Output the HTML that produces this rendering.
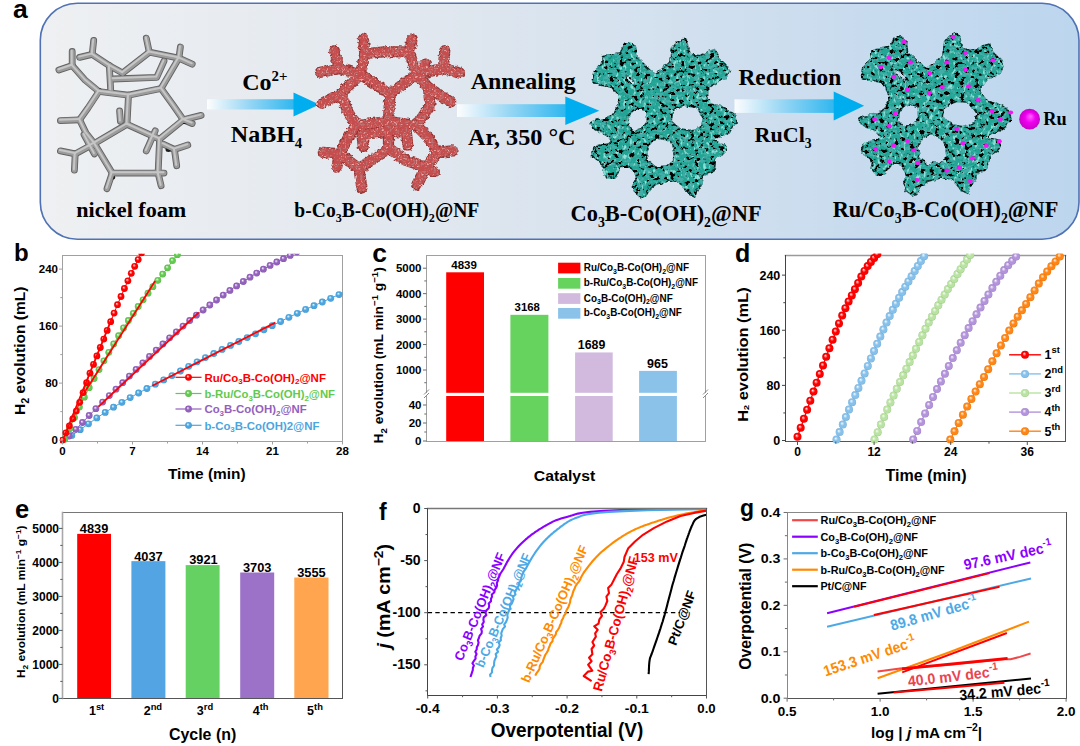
<!DOCTYPE html>
<html><head><meta charset="utf-8"><title>Figure</title>
<style>html,body{margin:0;padding:0;background:#fff;} svg{display:block;}</style></head>
<body><svg width="1080" height="746" viewBox="0 0 1080 746">
<rect width="1080" height="746" fill="#fff"/>
<defs>
<linearGradient id="abg" x1="0" y1="0" x2="1" y2="0">
<stop offset="0" stop-color="#eef0f2"/><stop offset="0.35" stop-color="#e2e8ef"/><stop offset="0.65" stop-color="#d0dfee"/><stop offset="1" stop-color="#bcd6ee"/></linearGradient>
<linearGradient id="shaft" x1="0" y1="0" x2="1" y2="0">
<stop offset="0" stop-color="#ffffff" stop-opacity="0.9"/><stop offset="0.12" stop-color="#e4f3fb"/><stop offset="0.5" stop-color="#93d5f4"/><stop offset="1" stop-color="#30b7ef"/></linearGradient>
<radialGradient id="ruball" cx="0.5" cy="0.5" r="0.5" fx="0.55" fy="0.35"><stop offset="0" stop-color="#ff66ff"/><stop offset="0.5" stop-color="#f000f0"/><stop offset="1" stop-color="#c800c8"/></radialGradient>
<filter id="tealf" filterUnits="userSpaceOnUse" x="560" y="20" width="480" height="190">
<feTurbulence type="fractalNoise" baseFrequency="0.16" numOctaves="2" seed="4" result="t1"/>
<feDisplacementMap in="SourceGraphic" in2="t1" scale="4.5" xChannelSelector="R" yChannelSelector="G" result="shape"/>
<feTurbulence type="fractalNoise" baseFrequency="0.18 0.3" numOctaves="3" seed="13" result="t0"/>
<feColorMatrix in="t0" type="matrix" values="0 0 0 0 0.06  0 0 0 0 0.42  0 0 0 0 0.39  -7 0 0 0 3.6" result="mid"/>
<feComposite in="mid" in2="shape" operator="in" result="midIn"/>
<feTurbulence type="fractalNoise" baseFrequency="0.2 0.26" numOctaves="3" seed="9" result="t2"/>
<feColorMatrix in="t2" type="matrix" values="0 0 0 0 0.0  0 0 0 0 0.0  0 0 0 0 0.0  -10 0 0 0 4.35" result="dark"/>
<feComposite in="dark" in2="shape" operator="in" result="darkIn"/>
<feTurbulence type="fractalNoise" baseFrequency="0.3 0.2" numOctaves="2" seed="21" result="t3"/>
<feColorMatrix in="t3" type="matrix" values="0 0 0 0 0.26  0 0 0 0 0.76  0 0 0 0 0.70  6 0 0 0 -3.45" result="light"/>
<feComposite in="light" in2="shape" operator="in" result="lightIn"/>
<feMerge><feMergeNode in="shape"/><feMergeNode in="midIn"/><feMergeNode in="lightIn"/><feMergeNode in="darkIn"/></feMerge>
</filter>
<filter id="redf" filterUnits="userSpaceOnUse" x="300" y="25" width="180" height="175">
<feTurbulence type="fractalNoise" baseFrequency="0.3" numOctaves="2" seed="2" result="t1"/>
<feDisplacementMap in="SourceGraphic" in2="t1" scale="4" xChannelSelector="R" yChannelSelector="G" result="shape"/>
<feTurbulence type="fractalNoise" baseFrequency="0.38" numOctaves="2" seed="5" result="t2"/>
<feColorMatrix in="t2" type="matrix" values="0 0 0 0 0.50  0 0 0 0 0.17  0 0 0 0 0.17  -6 0 0 0 2.75" result="dark"/>
<feComposite in="dark" in2="shape" operator="in" result="darkIn"/>
<feColorMatrix in="t2" type="matrix" values="0 0 0 0 0.84  0 0 0 0 0.43  0 0 0 0 0.42  6 0 0 0 -3.75" result="light"/>
<feComposite in="light" in2="shape" operator="in" result="lightIn"/>
<feMerge><feMergeNode in="shape"/><feMergeNode in="darkIn"/><feMergeNode in="lightIn"/></feMerge>
</filter>
</defs>
<rect x="40.3" y="3.3" width="1038.7" height="235.9" rx="37" ry="37" fill="url(#abg)" stroke="#5072b4" stroke-width="1.6"/>
<rect x="207" y="99.2" width="87.0" height="10.299999999999997" fill="url(#shaft)"/>
<polygon points="293.5,92.6 319.4,104.4 293.5,116.5" fill="#00aeef"/>
<rect x="457" y="104.2" width="108.79999999999995" height="12.799999999999997" fill="url(#shaft)"/>
<polygon points="565.3,96.4 599.3,110.7 565.3,125" fill="#00aeef"/>
<rect x="734.5" y="99.3" width="99.70000000000005" height="13.600000000000009" fill="url(#shaft)"/>
<polygon points="833.7,91.5 864.2,105.8 833.7,120.5" fill="#00aeef"/>
<g fill="none" stroke-linecap="round" stroke-linejoin="round">
<polyline points="58.9,70.0 72.2,65.6" stroke="#626262" stroke-width="6.8"/>
<polyline points="72.2,65.6 72.2,51.5" stroke="#626262" stroke-width="6.8"/>
<polyline points="72.2,65.6 85.0,80.0 98.9,91.5" stroke="#626262" stroke-width="6.8"/>
<polyline points="79.6,57.4 92.2,54.4" stroke="#626262" stroke-width="6.8"/>
<polyline points="92.2,54.4 93.7,40.4" stroke="#626262" stroke-width="6.8"/>
<polyline points="92.2,54.4 109.3,65.6" stroke="#626262" stroke-width="6.8"/>
<polyline points="109.3,65.6 110.7,90.0" stroke="#626262" stroke-width="6.8"/>
<polyline points="109.3,65.6 122.6,73.0" stroke="#626262" stroke-width="6.8"/>
<polyline points="122.6,73.0 149.3,52.2" stroke="#626262" stroke-width="6.8"/>
<polyline points="149.3,52.2 146.3,38.1" stroke="#626262" stroke-width="6.8"/>
<polyline points="149.3,52.2 178.9,58.1" stroke="#626262" stroke-width="6.8"/>
<polyline points="178.9,58.1 180.4,47.0" stroke="#626262" stroke-width="6.8"/>
<polyline points="178.9,58.1 192.2,64.1" stroke="#626262" stroke-width="6.8"/>
<polyline points="178.9,58.1 161.1,88.5" stroke="#626262" stroke-width="6.8"/>
<polyline points="113.0,79.0 156.7,77.4 164.0,61.1" stroke="#626262" stroke-width="6.8"/>
<polyline points="98.9,91.5 128.5,95.2 161.1,88.5" stroke="#626262" stroke-width="6.8"/>
<polyline points="98.9,91.5 88.0,108.0 79.6,119.8" stroke="#626262" stroke-width="6.8"/>
<polyline points="128.5,95.2 127.0,124.3" stroke="#626262" stroke-width="6.8"/>
<polyline points="161.1,88.5 173.0,105.0 183.3,119.8" stroke="#626262" stroke-width="6.8"/>
<polyline points="79.6,119.8 60.4,120.6" stroke="#626262" stroke-width="6.8"/>
<polyline points="79.6,119.8 86.0,133.0 94.4,143.5" stroke="#626262" stroke-width="6.8"/>
<polyline points="84.0,134.6 94.4,153.9" stroke="#626262" stroke-width="6.8"/>
<polyline points="119.6,110.9 120.4,121.3" stroke="#626262" stroke-width="6.8"/>
<polyline points="127.0,124.3 94.4,143.5" stroke="#626262" stroke-width="6.8"/>
<polyline points="94.4,143.5 75.2,153.9" stroke="#626262" stroke-width="6.8"/>
<polyline points="75.2,153.9 60.4,150.9" stroke="#626262" stroke-width="6.8"/>
<polyline points="75.2,153.9 74.4,170.2" stroke="#626262" stroke-width="6.8"/>
<polyline points="127.0,124.3 159.6,139.1" stroke="#626262" stroke-width="6.8"/>
<polyline points="159.6,139.1 183.3,119.8" stroke="#626262" stroke-width="6.8"/>
<polyline points="183.3,119.8 201.1,115.4" stroke="#626262" stroke-width="6.8"/>
<polyline points="183.3,119.8 192.2,123.5" stroke="#626262" stroke-width="6.8"/>
<polyline points="159.6,139.1 158.1,173.1" stroke="#626262" stroke-width="6.8"/>
<polyline points="163.0,144.0 174.4,149.4" stroke="#626262" stroke-width="6.8"/>
<polyline points="174.4,149.4 187.8,145.0" stroke="#626262" stroke-width="6.8"/>
<polyline points="174.4,149.4 176.7,165.7" stroke="#626262" stroke-width="6.8"/>
<polyline points="155.2,130.9 146.3,150.9" stroke="#626262" stroke-width="6.8"/>
<polyline points="94.4,143.5 112.2,173.1" stroke="#626262" stroke-width="6.8"/>
<polyline points="112.2,173.1 158.1,173.1" stroke="#626262" stroke-width="6.8"/>
<polyline points="112.2,173.1 107.0,188.7" stroke="#626262" stroke-width="6.8"/>
<polyline points="158.1,173.1 161.1,185.7" stroke="#626262" stroke-width="6.8"/>
<polyline points="158.1,173.1 164.0,173.1" stroke="#626262" stroke-width="6.8"/>
<ellipse cx="98.9" cy="90.7" rx="3.5" ry="2.5" fill="#1e1e1e" stroke="none"/>
<ellipse cx="160.4" cy="88.5" rx="3.2" ry="2.6" fill="#1e1e1e" stroke="none"/>
<ellipse cx="184.8" cy="122" rx="3" ry="2" fill="#1e1e1e" stroke="none"/>
<ellipse cx="158.9" cy="174.6" rx="3" ry="2" fill="#1e1e1e" stroke="none"/>
<ellipse cx="112.2" cy="177.6" rx="3" ry="2" fill="#1e1e1e" stroke="none"/>
<ellipse cx="93" cy="146.5" rx="2.5" ry="3" fill="#1e1e1e" stroke="none"/>
<ellipse cx="168.5" cy="149.4" rx="3" ry="2.5" fill="#1e1e1e" stroke="none"/>
<ellipse cx="111" cy="78" rx="2.5" ry="2" fill="#1e1e1e" stroke="none"/>
<polyline points="58.9,70.0 72.2,65.6" stroke="#9c9c9c" stroke-width="5.0"/>
<polyline points="72.2,65.6 72.2,51.5" stroke="#9c9c9c" stroke-width="5.0"/>
<polyline points="72.2,65.6 85.0,80.0 98.9,91.5" stroke="#9c9c9c" stroke-width="5.0"/>
<polyline points="79.6,57.4 92.2,54.4" stroke="#9c9c9c" stroke-width="5.0"/>
<polyline points="92.2,54.4 93.7,40.4" stroke="#9c9c9c" stroke-width="5.0"/>
<polyline points="92.2,54.4 109.3,65.6" stroke="#9c9c9c" stroke-width="5.0"/>
<polyline points="109.3,65.6 110.7,90.0" stroke="#9c9c9c" stroke-width="5.0"/>
<polyline points="109.3,65.6 122.6,73.0" stroke="#9c9c9c" stroke-width="5.0"/>
<polyline points="122.6,73.0 149.3,52.2" stroke="#9c9c9c" stroke-width="5.0"/>
<polyline points="149.3,52.2 146.3,38.1" stroke="#9c9c9c" stroke-width="5.0"/>
<polyline points="149.3,52.2 178.9,58.1" stroke="#9c9c9c" stroke-width="5.0"/>
<polyline points="178.9,58.1 180.4,47.0" stroke="#9c9c9c" stroke-width="5.0"/>
<polyline points="178.9,58.1 192.2,64.1" stroke="#9c9c9c" stroke-width="5.0"/>
<polyline points="178.9,58.1 161.1,88.5" stroke="#9c9c9c" stroke-width="5.0"/>
<polyline points="113.0,79.0 156.7,77.4 164.0,61.1" stroke="#9c9c9c" stroke-width="5.0"/>
<polyline points="98.9,91.5 128.5,95.2 161.1,88.5" stroke="#9c9c9c" stroke-width="5.0"/>
<polyline points="98.9,91.5 88.0,108.0 79.6,119.8" stroke="#9c9c9c" stroke-width="5.0"/>
<polyline points="128.5,95.2 127.0,124.3" stroke="#9c9c9c" stroke-width="5.0"/>
<polyline points="161.1,88.5 173.0,105.0 183.3,119.8" stroke="#9c9c9c" stroke-width="5.0"/>
<polyline points="79.6,119.8 60.4,120.6" stroke="#9c9c9c" stroke-width="5.0"/>
<polyline points="79.6,119.8 86.0,133.0 94.4,143.5" stroke="#9c9c9c" stroke-width="5.0"/>
<polyline points="84.0,134.6 94.4,153.9" stroke="#9c9c9c" stroke-width="5.0"/>
<polyline points="119.6,110.9 120.4,121.3" stroke="#9c9c9c" stroke-width="5.0"/>
<polyline points="127.0,124.3 94.4,143.5" stroke="#9c9c9c" stroke-width="5.0"/>
<polyline points="94.4,143.5 75.2,153.9" stroke="#9c9c9c" stroke-width="5.0"/>
<polyline points="75.2,153.9 60.4,150.9" stroke="#9c9c9c" stroke-width="5.0"/>
<polyline points="75.2,153.9 74.4,170.2" stroke="#9c9c9c" stroke-width="5.0"/>
<polyline points="127.0,124.3 159.6,139.1" stroke="#9c9c9c" stroke-width="5.0"/>
<polyline points="159.6,139.1 183.3,119.8" stroke="#9c9c9c" stroke-width="5.0"/>
<polyline points="183.3,119.8 201.1,115.4" stroke="#9c9c9c" stroke-width="5.0"/>
<polyline points="183.3,119.8 192.2,123.5" stroke="#9c9c9c" stroke-width="5.0"/>
<polyline points="159.6,139.1 158.1,173.1" stroke="#9c9c9c" stroke-width="5.0"/>
<polyline points="163.0,144.0 174.4,149.4" stroke="#9c9c9c" stroke-width="5.0"/>
<polyline points="174.4,149.4 187.8,145.0" stroke="#9c9c9c" stroke-width="5.0"/>
<polyline points="174.4,149.4 176.7,165.7" stroke="#9c9c9c" stroke-width="5.0"/>
<polyline points="155.2,130.9 146.3,150.9" stroke="#9c9c9c" stroke-width="5.0"/>
<polyline points="94.4,143.5 112.2,173.1" stroke="#9c9c9c" stroke-width="5.0"/>
<polyline points="112.2,173.1 158.1,173.1" stroke="#9c9c9c" stroke-width="5.0"/>
<polyline points="112.2,173.1 107.0,188.7" stroke="#9c9c9c" stroke-width="5.0"/>
<polyline points="158.1,173.1 161.1,185.7" stroke="#9c9c9c" stroke-width="5.0"/>
<polyline points="158.1,173.1 164.0,173.1" stroke="#9c9c9c" stroke-width="5.0"/>
<polyline points="58.9,70.0 72.2,65.6" stroke="#c6c6c6" stroke-width="2.0" transform="translate(-0.5,-0.8)"/>
<polyline points="72.2,65.6 72.2,51.5" stroke="#c6c6c6" stroke-width="2.0" transform="translate(-0.5,-0.8)"/>
<polyline points="72.2,65.6 85.0,80.0 98.9,91.5" stroke="#c6c6c6" stroke-width="2.0" transform="translate(-0.5,-0.8)"/>
<polyline points="79.6,57.4 92.2,54.4" stroke="#c6c6c6" stroke-width="2.0" transform="translate(-0.5,-0.8)"/>
<polyline points="92.2,54.4 93.7,40.4" stroke="#c6c6c6" stroke-width="2.0" transform="translate(-0.5,-0.8)"/>
<polyline points="92.2,54.4 109.3,65.6" stroke="#c6c6c6" stroke-width="2.0" transform="translate(-0.5,-0.8)"/>
<polyline points="109.3,65.6 110.7,90.0" stroke="#c6c6c6" stroke-width="2.0" transform="translate(-0.5,-0.8)"/>
<polyline points="109.3,65.6 122.6,73.0" stroke="#c6c6c6" stroke-width="2.0" transform="translate(-0.5,-0.8)"/>
<polyline points="122.6,73.0 149.3,52.2" stroke="#c6c6c6" stroke-width="2.0" transform="translate(-0.5,-0.8)"/>
<polyline points="149.3,52.2 146.3,38.1" stroke="#c6c6c6" stroke-width="2.0" transform="translate(-0.5,-0.8)"/>
<polyline points="149.3,52.2 178.9,58.1" stroke="#c6c6c6" stroke-width="2.0" transform="translate(-0.5,-0.8)"/>
<polyline points="178.9,58.1 180.4,47.0" stroke="#c6c6c6" stroke-width="2.0" transform="translate(-0.5,-0.8)"/>
<polyline points="178.9,58.1 192.2,64.1" stroke="#c6c6c6" stroke-width="2.0" transform="translate(-0.5,-0.8)"/>
<polyline points="178.9,58.1 161.1,88.5" stroke="#c6c6c6" stroke-width="2.0" transform="translate(-0.5,-0.8)"/>
<polyline points="113.0,79.0 156.7,77.4 164.0,61.1" stroke="#c6c6c6" stroke-width="2.0" transform="translate(-0.5,-0.8)"/>
<polyline points="98.9,91.5 128.5,95.2 161.1,88.5" stroke="#c6c6c6" stroke-width="2.0" transform="translate(-0.5,-0.8)"/>
<polyline points="98.9,91.5 88.0,108.0 79.6,119.8" stroke="#c6c6c6" stroke-width="2.0" transform="translate(-0.5,-0.8)"/>
<polyline points="128.5,95.2 127.0,124.3" stroke="#c6c6c6" stroke-width="2.0" transform="translate(-0.5,-0.8)"/>
<polyline points="161.1,88.5 173.0,105.0 183.3,119.8" stroke="#c6c6c6" stroke-width="2.0" transform="translate(-0.5,-0.8)"/>
<polyline points="79.6,119.8 60.4,120.6" stroke="#c6c6c6" stroke-width="2.0" transform="translate(-0.5,-0.8)"/>
<polyline points="79.6,119.8 86.0,133.0 94.4,143.5" stroke="#c6c6c6" stroke-width="2.0" transform="translate(-0.5,-0.8)"/>
<polyline points="84.0,134.6 94.4,153.9" stroke="#c6c6c6" stroke-width="2.0" transform="translate(-0.5,-0.8)"/>
<polyline points="119.6,110.9 120.4,121.3" stroke="#c6c6c6" stroke-width="2.0" transform="translate(-0.5,-0.8)"/>
<polyline points="127.0,124.3 94.4,143.5" stroke="#c6c6c6" stroke-width="2.0" transform="translate(-0.5,-0.8)"/>
<polyline points="94.4,143.5 75.2,153.9" stroke="#c6c6c6" stroke-width="2.0" transform="translate(-0.5,-0.8)"/>
<polyline points="75.2,153.9 60.4,150.9" stroke="#c6c6c6" stroke-width="2.0" transform="translate(-0.5,-0.8)"/>
<polyline points="75.2,153.9 74.4,170.2" stroke="#c6c6c6" stroke-width="2.0" transform="translate(-0.5,-0.8)"/>
<polyline points="127.0,124.3 159.6,139.1" stroke="#c6c6c6" stroke-width="2.0" transform="translate(-0.5,-0.8)"/>
<polyline points="159.6,139.1 183.3,119.8" stroke="#c6c6c6" stroke-width="2.0" transform="translate(-0.5,-0.8)"/>
<polyline points="183.3,119.8 201.1,115.4" stroke="#c6c6c6" stroke-width="2.0" transform="translate(-0.5,-0.8)"/>
<polyline points="183.3,119.8 192.2,123.5" stroke="#c6c6c6" stroke-width="2.0" transform="translate(-0.5,-0.8)"/>
<polyline points="159.6,139.1 158.1,173.1" stroke="#c6c6c6" stroke-width="2.0" transform="translate(-0.5,-0.8)"/>
<polyline points="163.0,144.0 174.4,149.4" stroke="#c6c6c6" stroke-width="2.0" transform="translate(-0.5,-0.8)"/>
<polyline points="174.4,149.4 187.8,145.0" stroke="#c6c6c6" stroke-width="2.0" transform="translate(-0.5,-0.8)"/>
<polyline points="174.4,149.4 176.7,165.7" stroke="#c6c6c6" stroke-width="2.0" transform="translate(-0.5,-0.8)"/>
<polyline points="155.2,130.9 146.3,150.9" stroke="#c6c6c6" stroke-width="2.0" transform="translate(-0.5,-0.8)"/>
<polyline points="94.4,143.5 112.2,173.1" stroke="#c6c6c6" stroke-width="2.0" transform="translate(-0.5,-0.8)"/>
<polyline points="112.2,173.1 158.1,173.1" stroke="#c6c6c6" stroke-width="2.0" transform="translate(-0.5,-0.8)"/>
<polyline points="112.2,173.1 107.0,188.7" stroke="#c6c6c6" stroke-width="2.0" transform="translate(-0.5,-0.8)"/>
<polyline points="158.1,173.1 161.1,185.7" stroke="#c6c6c6" stroke-width="2.0" transform="translate(-0.5,-0.8)"/>
<polyline points="158.1,173.1 164.0,173.1" stroke="#c6c6c6" stroke-width="2.0" transform="translate(-0.5,-0.8)"/>
</g>
<g fill="none" stroke-linecap="round" stroke-linejoin="round" filter="url(#redf)">
<polyline points="364.8,53.7 387.0,51.5 409.3,52.2 416.7,74.4 390.0,93.7 360.4,74.4 364.8,53.7" stroke="#963535" stroke-width="11.2"/>
<polyline points="364.8,53.7 363.3,38.9" stroke="#963535" stroke-width="11.2"/>
<polyline points="409.3,52.2 412.2,38.9" stroke="#963535" stroke-width="11.2"/>
<polyline points="339.6,68.5 334.4,50.7" stroke="#963535" stroke-width="11.2"/>
<polyline points="339.6,68.5 320.4,72.2" stroke="#963535" stroke-width="11.2"/>
<polyline points="339.6,68.5 360.4,74.4" stroke="#963535" stroke-width="11.2"/>
<polyline points="360.4,74.4 341.0,93.7" stroke="#963535" stroke-width="11.2"/>
<polyline points="341.0,93.7 321.9,103.3" stroke="#963535" stroke-width="11.2"/>
<polyline points="341.0,93.7 348.0,112.0 355.9,125.7" stroke="#963535" stroke-width="11.2"/>
<polyline points="443.3,68.5 444.8,50.7" stroke="#963535" stroke-width="11.2"/>
<polyline points="443.3,68.5 459.6,73.0" stroke="#963535" stroke-width="11.2"/>
<polyline points="443.3,68.5 416.7,74.4" stroke="#963535" stroke-width="11.2"/>
<polyline points="416.7,74.4 425.6,64.1" stroke="#963535" stroke-width="11.2"/>
<polyline points="416.7,74.4 428.5,87.8" stroke="#963535" stroke-width="11.2"/>
<polyline points="428.5,87.8 450.7,101.9" stroke="#963535" stroke-width="11.2"/>
<polyline points="428.5,87.8 430.0,106.0 416.7,125.7" stroke="#963535" stroke-width="11.2"/>
<polyline points="390.0,93.7 389.0,110.0 388.5,121.3" stroke="#963535" stroke-width="11.2"/>
<polyline points="355.9,125.7 388.5,121.3 416.7,125.7" stroke="#963535" stroke-width="11.2"/>
<polyline points="361.9,134.6 388.5,130.9 406.3,132.4" stroke="#963535" stroke-width="11.2"/>
<polyline points="361.9,134.6 363.3,146.5" stroke="#963535" stroke-width="11.2"/>
<polyline points="406.3,132.4 407.8,145.0" stroke="#963535" stroke-width="11.2"/>
<polyline points="388.5,121.3 388.5,148.0" stroke="#963535" stroke-width="11.2"/>
<polyline points="355.9,125.7 348.0,138.0 339.6,153.9" stroke="#963535" stroke-width="11.2"/>
<polyline points="339.6,153.9 323.3,152.4" stroke="#963535" stroke-width="11.2"/>
<polyline points="339.6,153.9 336.7,167.2" stroke="#963535" stroke-width="11.2"/>
<polyline points="339.6,153.9 358.9,168.7" stroke="#963535" stroke-width="11.2"/>
<polyline points="358.9,168.7 361.9,188.0" stroke="#963535" stroke-width="11.2"/>
<polyline points="358.9,168.7 381.1,153.9 388.5,148.0" stroke="#963535" stroke-width="11.2"/>
<polyline points="388.5,148.0 405.0,160.0 425.6,167.2" stroke="#963535" stroke-width="11.2"/>
<polyline points="425.6,167.2 416.7,185.0" stroke="#963535" stroke-width="11.2"/>
<polyline points="425.6,167.2 434.4,171.7" stroke="#963535" stroke-width="11.2"/>
<polyline points="425.6,167.2 437.4,152.4" stroke="#963535" stroke-width="11.2"/>
<polyline points="437.4,152.4 452.2,150.9" stroke="#963535" stroke-width="11.2"/>
<polyline points="437.4,152.4 428.5,137.6 416.7,125.7" stroke="#963535" stroke-width="11.2"/>
<polyline points="364.8,53.7 387.0,51.5 409.3,52.2 416.7,74.4 390.0,93.7 360.4,74.4 364.8,53.7" stroke="#c54e4e" stroke-width="8.6"/>
<polyline points="364.8,53.7 363.3,38.9" stroke="#c54e4e" stroke-width="8.6"/>
<polyline points="409.3,52.2 412.2,38.9" stroke="#c54e4e" stroke-width="8.6"/>
<polyline points="339.6,68.5 334.4,50.7" stroke="#c54e4e" stroke-width="8.6"/>
<polyline points="339.6,68.5 320.4,72.2" stroke="#c54e4e" stroke-width="8.6"/>
<polyline points="339.6,68.5 360.4,74.4" stroke="#c54e4e" stroke-width="8.6"/>
<polyline points="360.4,74.4 341.0,93.7" stroke="#c54e4e" stroke-width="8.6"/>
<polyline points="341.0,93.7 321.9,103.3" stroke="#c54e4e" stroke-width="8.6"/>
<polyline points="341.0,93.7 348.0,112.0 355.9,125.7" stroke="#c54e4e" stroke-width="8.6"/>
<polyline points="443.3,68.5 444.8,50.7" stroke="#c54e4e" stroke-width="8.6"/>
<polyline points="443.3,68.5 459.6,73.0" stroke="#c54e4e" stroke-width="8.6"/>
<polyline points="443.3,68.5 416.7,74.4" stroke="#c54e4e" stroke-width="8.6"/>
<polyline points="416.7,74.4 425.6,64.1" stroke="#c54e4e" stroke-width="8.6"/>
<polyline points="416.7,74.4 428.5,87.8" stroke="#c54e4e" stroke-width="8.6"/>
<polyline points="428.5,87.8 450.7,101.9" stroke="#c54e4e" stroke-width="8.6"/>
<polyline points="428.5,87.8 430.0,106.0 416.7,125.7" stroke="#c54e4e" stroke-width="8.6"/>
<polyline points="390.0,93.7 389.0,110.0 388.5,121.3" stroke="#c54e4e" stroke-width="8.6"/>
<polyline points="355.9,125.7 388.5,121.3 416.7,125.7" stroke="#c54e4e" stroke-width="8.6"/>
<polyline points="361.9,134.6 388.5,130.9 406.3,132.4" stroke="#c54e4e" stroke-width="8.6"/>
<polyline points="361.9,134.6 363.3,146.5" stroke="#c54e4e" stroke-width="8.6"/>
<polyline points="406.3,132.4 407.8,145.0" stroke="#c54e4e" stroke-width="8.6"/>
<polyline points="388.5,121.3 388.5,148.0" stroke="#c54e4e" stroke-width="8.6"/>
<polyline points="355.9,125.7 348.0,138.0 339.6,153.9" stroke="#c54e4e" stroke-width="8.6"/>
<polyline points="339.6,153.9 323.3,152.4" stroke="#c54e4e" stroke-width="8.6"/>
<polyline points="339.6,153.9 336.7,167.2" stroke="#c54e4e" stroke-width="8.6"/>
<polyline points="339.6,153.9 358.9,168.7" stroke="#c54e4e" stroke-width="8.6"/>
<polyline points="358.9,168.7 361.9,188.0" stroke="#c54e4e" stroke-width="8.6"/>
<polyline points="358.9,168.7 381.1,153.9 388.5,148.0" stroke="#c54e4e" stroke-width="8.6"/>
<polyline points="388.5,148.0 405.0,160.0 425.6,167.2" stroke="#c54e4e" stroke-width="8.6"/>
<polyline points="425.6,167.2 416.7,185.0" stroke="#c54e4e" stroke-width="8.6"/>
<polyline points="425.6,167.2 434.4,171.7" stroke="#c54e4e" stroke-width="8.6"/>
<polyline points="425.6,167.2 437.4,152.4" stroke="#c54e4e" stroke-width="8.6"/>
<polyline points="437.4,152.4 452.2,150.9" stroke="#c54e4e" stroke-width="8.6"/>
<polyline points="437.4,152.4 428.5,137.6 416.7,125.7" stroke="#c54e4e" stroke-width="8.6"/>
</g>
<g filter="url(#tealf)"><path d="M592.4,79.4 L593.9,72.0 L601.3,64.6 L602.8,55.7 L611.7,54.3 L620.6,52.8 L623.5,43.9 L629.4,42.4 L635.4,46.9 L636.9,57.2 L644.3,64.6 L650.2,70.6 L654.6,73.5 L662.0,69.1 L670.9,61.7 L672.4,48.3 L676.9,42.4 L684.3,39.4 L687.2,43.9 L688.7,54.3 L700.6,55.7 L709.4,51.3 L715.4,49.8 L718.3,57.2 L727.2,66.1 L729.4,70.6 L725.7,78.0 L718.3,82.4 L711.0,86.0 L707.5,91.0 L707.5,98.0 L712.0,104.0 L722.0,107.0 L734.6,114.4 L736.1,123.3 L730.2,130.7 L724.3,135.2 L715.4,138.1 L713.9,141.1 L724.3,144.1 L726.5,150.0 L722.8,154.4 L715.4,158.9 L714.6,166.3 L712.4,172.2 L703.5,175.2 L702.0,182.6 L697.6,190.0 L694.6,195.9 L688.7,193.0 L682.8,185.6 L676.9,181.1 L668.0,181.1 L656.1,184.1 L650.2,188.5 L645.7,195.9 L641.3,197.4 L635.4,193.0 L632.4,187.0 L636.1,179.6 L633.9,172.2 L629.4,166.3 L622.0,166.3 L617.6,172.2 L614.6,178.1 L607.2,178.1 L602.8,172.2 L604.3,166.3 L598.3,160.4 L592.4,155.9 L593.9,148.5 L596.9,145.6 L608.7,144.1 L611.7,141.1 L608.7,136.7 L601.3,132.2 L592.4,127.8 L590.9,123.3 L595.4,120.4 L604.3,118.9 L611.7,115.9 L616.0,110.0 L619.1,104.6 L617.6,94.3 L611.7,86.9 L593.9,83.9 Z M625.0,75.0 L629.4,76.5 L636.9,83.9 L633.9,86.9 L626.5,79.4 Z M636.2,108.1 L647.0,110.5 L647.6,121.4 L642.2,128.6 L632.6,131.0 L627.7,125.0 L629.0,114.1 Z M672.4,110.5 L684.4,105.7 L696.5,106.9 L703.7,117.7 L701.3,127.4 L691.7,131.0 L679.6,128.6 L671.2,121.4 Z M659.1,138.3 L670.0,140.7 L673.6,150.3 L674.8,160.0 L667.6,166.0 L655.5,167.2 L648.3,161.2 L646.4,150.3 L650.7,141.9 Z" fill="#21a595" fill-rule="evenodd" stroke="#0a2b27" stroke-width="1.6"/></g>
<g filter="url(#tealf)"><path d="M861.3,74.5 L862.9,66.9 L870.6,59.4 L872.2,50.3 L881.4,48.9 L890.7,47.4 L893.7,38.3 L899.8,36.7 L906.1,41.3 L907.6,51.8 L915.3,59.4 L921.5,65.5 L926.0,68.5 L933.7,64.0 L943.0,56.4 L944.5,42.8 L949.2,36.7 L956.9,33.7 L959.9,38.3 L961.5,48.9 L973.9,50.3 L983.0,45.8 L989.3,44.3 L992.3,51.8 L1001.5,60.9 L1003.8,65.5 L1000.0,73.1 L992.3,77.5 L984.7,81.2 L981.0,86.3 L981.0,93.5 L985.7,99.6 L996.1,102.6 L1009.2,110.2 L1010.8,119.3 L1004.7,126.8 L998.5,131.4 L989.3,134.4 L987.7,137.4 L998.5,140.5 L1000.8,146.5 L997.0,151.0 L989.3,155.6 L988.4,163.1 L986.1,169.1 L976.9,172.2 L975.3,179.7 L970.7,187.3 L967.6,193.3 L961.5,190.4 L955.4,182.8 L949.2,178.2 L940.0,178.2 L927.6,181.3 L921.5,185.8 L916.8,193.3 L912.2,194.8 L906.1,190.4 L902.9,184.2 L906.8,176.7 L904.5,169.1 L899.8,163.1 L892.1,163.1 L887.5,169.1 L884.4,175.2 L876.7,175.2 L872.2,169.1 L873.7,163.1 L867.5,157.1 L861.3,152.5 L862.9,145.0 L866.0,142.0 L878.3,140.5 L881.4,137.4 L878.3,132.9 L870.6,128.3 L861.3,123.8 L859.8,119.3 L864.5,116.3 L873.7,114.8 L881.4,111.7 L885.9,105.7 L889.1,100.2 L887.5,89.7 L881.4,82.1 L862.9,79.1 Z M895.2,70.0 L899.8,71.5 L907.6,79.1 L904.5,82.1 L896.8,74.5 Z M906.9,103.8 L918.1,106.2 L918.7,117.3 L913.1,124.7 L903.1,127.1 L898.1,121.0 L899.4,109.9 Z M944.5,106.2 L957.0,101.3 L969.6,102.5 L977.1,113.5 L974.6,123.4 L964.6,127.1 L952.0,124.7 L943.3,117.3 Z M930.7,134.6 L942.0,137.0 L945.8,146.8 L947.0,156.7 L939.5,162.8 L927.0,164.0 L919.5,157.9 L917.5,146.8 L922.0,138.2 Z" fill="#21a595" fill-rule="evenodd" stroke="#0a2b27" stroke-width="1.6"/></g>
<ellipse cx="904.2" cy="41.9" rx="2.45" ry="2.1" fill="#f812f8"/>
<ellipse cx="953.0" cy="36.8" rx="2.45" ry="2.1" fill="#f812f8"/>
<ellipse cx="888.7" cy="57.8" rx="2.45" ry="2.1" fill="#f812f8"/>
<ellipse cx="910.4" cy="62.4" rx="2.45" ry="2.1" fill="#f812f8"/>
<ellipse cx="965.5" cy="52.8" rx="2.45" ry="2.1" fill="#f812f8"/>
<ellipse cx="992.9" cy="60.3" rx="2.45" ry="2.1" fill="#f812f8"/>
<ellipse cx="880.8" cy="67.1" rx="2.45" ry="2.1" fill="#f812f8"/>
<ellipse cx="946.9" cy="62.4" rx="2.45" ry="2.1" fill="#f812f8"/>
<ellipse cx="929.8" cy="73.3" rx="2.45" ry="2.1" fill="#f812f8"/>
<ellipse cx="965.5" cy="69.9" rx="2.45" ry="2.1" fill="#f812f8"/>
<ellipse cx="893.8" cy="76.7" rx="2.45" ry="2.1" fill="#f812f8"/>
<ellipse cx="907.7" cy="89.9" rx="2.45" ry="2.1" fill="#f812f8"/>
<ellipse cx="929.3" cy="93.1" rx="2.45" ry="2.1" fill="#f812f8"/>
<ellipse cx="942.3" cy="87.0" rx="2.45" ry="2.1" fill="#f812f8"/>
<ellipse cx="968.5" cy="86.3" rx="2.45" ry="2.1" fill="#f812f8"/>
<ellipse cx="978.1" cy="100.2" rx="2.45" ry="2.1" fill="#f812f8"/>
<ellipse cx="992.0" cy="111.1" rx="2.45" ry="2.1" fill="#f812f8"/>
<ellipse cx="1010.7" cy="112.5" rx="2.45" ry="2.1" fill="#f812f8"/>
<ellipse cx="1000.4" cy="119.3" rx="2.45" ry="2.1" fill="#f812f8"/>
<ellipse cx="895.1" cy="113.9" rx="2.45" ry="2.1" fill="#f812f8"/>
<ellipse cx="874.6" cy="119.6" rx="2.45" ry="2.1" fill="#f812f8"/>
<ellipse cx="889.2" cy="126.2" rx="2.45" ry="2.1" fill="#f812f8"/>
<ellipse cx="956.7" cy="129.1" rx="2.45" ry="2.1" fill="#f812f8"/>
<ellipse cx="907.4" cy="141.0" rx="2.45" ry="2.1" fill="#f812f8"/>
<ellipse cx="962.8" cy="143.3" rx="2.45" ry="2.1" fill="#f812f8"/>
<ellipse cx="999.3" cy="141.2" rx="2.45" ry="2.1" fill="#f812f8"/>
<ellipse cx="986.3" cy="145.8" rx="2.45" ry="2.1" fill="#f812f8"/>
<ellipse cx="875.5" cy="149.0" rx="2.45" ry="2.1" fill="#f812f8"/>
<ellipse cx="894.0" cy="145.8" rx="2.45" ry="2.1" fill="#f812f8"/>
<ellipse cx="913.8" cy="150.3" rx="2.45" ry="2.1" fill="#f812f8"/>
<ellipse cx="972.4" cy="158.3" rx="2.45" ry="2.1" fill="#f812f8"/>
<ellipse cx="889.2" cy="161.7" rx="2.45" ry="2.1" fill="#f812f8"/>
<ellipse cx="917.9" cy="162.9" rx="2.45" ry="2.1" fill="#f812f8"/>
<ellipse cx="946.9" cy="170.6" rx="2.45" ry="2.1" fill="#f812f8"/>
<ellipse cx="958.9" cy="167.9" rx="2.45" ry="2.1" fill="#f812f8"/>
<ellipse cx="917.2" cy="180.0" rx="2.45" ry="2.1" fill="#f812f8"/>
<ellipse cx="970.3" cy="181.1" rx="2.45" ry="2.1" fill="#f812f8"/>
<circle cx="1029.6" cy="119.2" r="10.4" fill="url(#ruball)"/>
<text x="13.00" y="17.50" font-size="26.5" font-family="'Liberation Sans', Arial, sans-serif" font-weight="bold" fill="#000"><tspan>a</tspan></text>
<text x="242.20" y="90.20" font-size="24" font-family="'Liberation Serif', 'Times New Roman', serif" font-weight="bold" fill="#000"><tspan>Co</tspan><tspan dy="-9.12" font-size="14.88">2+</tspan></text>
<text x="230.80" y="142.40" font-size="24" font-family="'Liberation Serif', 'Times New Roman', serif" font-weight="bold" fill="#000"><tspan>NaBH</tspan><tspan dy="6.00" font-size="14.88">4</tspan></text>
<text x="76.25" y="217.00" font-size="22" font-family="'Liberation Serif', 'Times New Roman', serif" font-weight="bold" fill="#000" textLength="110.00" lengthAdjust="spacingAndGlyphs"><tspan>nickel foam</tspan></text>
<text x="294.30" y="216.70" font-size="20" font-family="'Liberation Serif', 'Times New Roman', serif" font-weight="bold" fill="#000" textLength="185.00" lengthAdjust="spacingAndGlyphs"><tspan>b-Co</tspan><tspan dy="5.60" font-size="12.40">3</tspan><tspan dy="-5.60">B-Co(OH)</tspan><tspan dy="5.60" font-size="12.40">2</tspan><tspan dy="-5.60">@NF</tspan></text>
<text x="470.80" y="88.90" font-size="24" font-family="'Liberation Serif', 'Times New Roman', serif" font-weight="bold" fill="#000" textLength="105.00" lengthAdjust="spacingAndGlyphs"><tspan>Annealing</tspan></text>
<text x="468.00" y="144.90" font-size="23" font-family="'Liberation Serif', 'Times New Roman', serif" font-weight="bold" fill="#000" textLength="107.60" lengthAdjust="spacingAndGlyphs"><tspan>Ar, 350 °C</tspan></text>
<text x="738.40" y="85.20" font-size="23.3" font-family="'Liberation Serif', 'Times New Roman', serif" font-weight="bold" fill="#000" textLength="102.80" lengthAdjust="spacingAndGlyphs"><tspan>Reduction</tspan></text>
<text x="754.60" y="142.30" font-size="22" font-family="'Liberation Serif', 'Times New Roman', serif" font-weight="bold" fill="#000" textLength="57.00" lengthAdjust="spacingAndGlyphs"><tspan>RuCl</tspan><tspan dy="6.16" font-size="13.64">3</tspan></text>
<text x="570.60" y="220.50" font-size="23" font-family="'Liberation Serif', 'Times New Roman', serif" font-weight="bold" fill="#000" textLength="191.00" lengthAdjust="spacingAndGlyphs"><tspan>Co</tspan><tspan dy="6.44" font-size="14.26">3</tspan><tspan dy="-6.44">B-Co(OH)</tspan><tspan dy="6.44" font-size="14.26">2</tspan><tspan dy="-6.44">@NF</tspan></text>
<text x="832.70" y="216.60" font-size="22.5" font-family="'Liberation Serif', 'Times New Roman', serif" font-weight="bold" fill="#000" textLength="225.70" lengthAdjust="spacingAndGlyphs"><tspan>Ru/Co</tspan><tspan dy="6.30" font-size="13.95">3</tspan><tspan dy="-6.30">B-Co(OH)</tspan><tspan dy="6.30" font-size="13.95">2</tspan><tspan dy="-6.30">@NF</tspan></text>
<text x="1043.30" y="124.80" font-size="19" font-family="'Liberation Serif', 'Times New Roman', serif" font-weight="bold" fill="#000" textLength="23.40" lengthAdjust="spacingAndGlyphs"><tspan>Ru</tspan></text>
<defs><radialGradient id="b_r" cx="0.5" cy="0.5" r="0.5" fx="0.38" fy="0.33"><stop offset="0" stop-color="#ffffff"/><stop offset="0.18" stop-color="#ff9999"/><stop offset="0.5" stop-color="#ff0000"/><stop offset="0.85" stop-color="#ff0000"/><stop offset="1" stop-color="#e00000"/></radialGradient><radialGradient id="b_g" cx="0.5" cy="0.5" r="0.5" fx="0.38" fy="0.33"><stop offset="0" stop-color="#ffffff"/><stop offset="0.18" stop-color="#c0e9b8"/><stop offset="0.5" stop-color="#62c94f"/><stop offset="0.85" stop-color="#62c94f"/><stop offset="1" stop-color="#56b045"/></radialGradient><radialGradient id="b_p" cx="0.5" cy="0.5" r="0.5" fx="0.38" fy="0.33"><stop offset="0" stop-color="#ffffff"/><stop offset="0.18" stop-color="#d3bfe4"/><stop offset="0.5" stop-color="#9360bd"/><stop offset="0.85" stop-color="#9360bd"/><stop offset="1" stop-color="#8154a6"/></radialGradient><radialGradient id="b_b" cx="0.5" cy="0.5" r="0.5" fx="0.38" fy="0.33"><stop offset="0" stop-color="#ffffff"/><stop offset="0.18" stop-color="#b6dbf2"/><stop offset="0.5" stop-color="#4aa5e0"/><stop offset="0.85" stop-color="#4aa5e0"/><stop offset="1" stop-color="#4191c5"/></radialGradient></defs>
<line x1="62.5" y1="255.5" x2="342.5" y2="255.5" stroke="#a0a0a0" stroke-width="1.0" stroke-linecap="square"/><line x1="342.5" y1="255.5" x2="342.5" y2="441.5" stroke="#a0a0a0" stroke-width="1.0" stroke-linecap="square"/><line x1="62.5" y1="441.5" x2="342.5" y2="441.5" stroke="#a0a0a0" stroke-width="1.0" stroke-linecap="square"/><line x1="62.5" y1="255.5" x2="62.5" y2="441.5" stroke="#a0a0a0" stroke-width="1.0" stroke-linecap="square"/>
<clipPath id="clipb"><rect x="60" y="253.8" width="283" height="192"/></clipPath>
<g clip-path="url(#clipb)">
<polyline fill="none" stroke="#4aa5e0" stroke-width="1.0" points="71.8,435.4 80.2,429.7 88.5,423.8 96.8,417.9 105.2,412.4 113.5,407.2 121.9,402.3 130.2,397.6 138.6,393.0 146.9,388.5 155.3,384.2 163.7,379.9 172.0,375.6 180.4,371.0 188.7,366.3 197.1,361.8 205.4,357.6 213.8,353.5 222.1,349.4 230.5,345.4 238.8,341.5 247.2,337.6 255.5,333.8 263.9,329.8 272.2,325.7 280.6,321.5 288.9,317.3 297.3,313.3 305.6,309.4 314.0,305.7 322.3,302.0 330.7,298.3 339.0,294.6 347.4,290.9"/><circle cx="71.8" cy="435.4" r="3.4" fill="url(#b_b)"/><circle cx="80.2" cy="429.7" r="3.4" fill="url(#b_b)"/><circle cx="88.5" cy="423.8" r="3.4" fill="url(#b_b)"/><circle cx="96.8" cy="417.9" r="3.4" fill="url(#b_b)"/><circle cx="105.2" cy="412.4" r="3.4" fill="url(#b_b)"/><circle cx="113.5" cy="407.2" r="3.4" fill="url(#b_b)"/><circle cx="121.9" cy="402.3" r="3.4" fill="url(#b_b)"/><circle cx="130.2" cy="397.6" r="3.4" fill="url(#b_b)"/><circle cx="138.6" cy="393.0" r="3.4" fill="url(#b_b)"/><circle cx="146.9" cy="388.5" r="3.4" fill="url(#b_b)"/><circle cx="155.3" cy="384.2" r="3.4" fill="url(#b_b)"/><circle cx="163.7" cy="379.9" r="3.4" fill="url(#b_b)"/><circle cx="172.0" cy="375.6" r="3.4" fill="url(#b_b)"/><circle cx="180.4" cy="371.0" r="3.4" fill="url(#b_b)"/><circle cx="188.7" cy="366.3" r="3.4" fill="url(#b_b)"/><circle cx="197.1" cy="361.8" r="3.4" fill="url(#b_b)"/><circle cx="205.4" cy="357.6" r="3.4" fill="url(#b_b)"/><circle cx="213.8" cy="353.5" r="3.4" fill="url(#b_b)"/><circle cx="222.1" cy="349.4" r="3.4" fill="url(#b_b)"/><circle cx="230.5" cy="345.4" r="3.4" fill="url(#b_b)"/><circle cx="238.8" cy="341.5" r="3.4" fill="url(#b_b)"/><circle cx="247.2" cy="337.6" r="3.4" fill="url(#b_b)"/><circle cx="255.5" cy="333.8" r="3.4" fill="url(#b_b)"/><circle cx="263.9" cy="329.8" r="3.4" fill="url(#b_b)"/><circle cx="272.2" cy="325.7" r="3.4" fill="url(#b_b)"/><circle cx="280.6" cy="321.5" r="3.4" fill="url(#b_b)"/><circle cx="288.9" cy="317.3" r="3.4" fill="url(#b_b)"/><circle cx="297.3" cy="313.3" r="3.4" fill="url(#b_b)"/><circle cx="305.6" cy="309.4" r="3.4" fill="url(#b_b)"/><circle cx="314.0" cy="305.7" r="3.4" fill="url(#b_b)"/><circle cx="322.3" cy="302.0" r="3.4" fill="url(#b_b)"/><circle cx="330.7" cy="298.3" r="3.4" fill="url(#b_b)"/><circle cx="339.0" cy="294.6" r="3.4" fill="url(#b_b)"/><circle cx="347.4" cy="290.9" r="3.4" fill="url(#b_b)"/>
<polyline fill="none" stroke="#9360bd" stroke-width="1.0" points="69.1,436.0 75.8,429.3 82.5,422.5 89.2,415.5 95.9,408.7 102.6,402.1 109.3,395.6 116.0,389.2 122.7,382.7 129.4,376.1 136.1,369.4 142.8,362.8 149.5,356.4 156.2,350.1 162.9,343.9 169.6,337.8 176.3,331.9 183.0,326.1 189.7,320.5 196.4,315.2 203.1,310.0 209.8,305.0 216.5,300.0 223.2,295.1 229.9,290.4 236.6,285.9 243.3,281.5 250.0,277.2 256.7,273.1 263.4,269.2 270.1,265.4 276.8,262.0 283.5,258.7 290.2,255.4 296.9,251.9 303.6,248.3 310.3,244.8"/><circle cx="69.1" cy="436.0" r="3.4" fill="url(#b_p)"/><circle cx="75.8" cy="429.3" r="3.4" fill="url(#b_p)"/><circle cx="82.5" cy="422.5" r="3.4" fill="url(#b_p)"/><circle cx="89.2" cy="415.5" r="3.4" fill="url(#b_p)"/><circle cx="95.9" cy="408.7" r="3.4" fill="url(#b_p)"/><circle cx="102.6" cy="402.1" r="3.4" fill="url(#b_p)"/><circle cx="109.3" cy="395.6" r="3.4" fill="url(#b_p)"/><circle cx="116.0" cy="389.2" r="3.4" fill="url(#b_p)"/><circle cx="122.7" cy="382.7" r="3.4" fill="url(#b_p)"/><circle cx="129.4" cy="376.1" r="3.4" fill="url(#b_p)"/><circle cx="136.1" cy="369.4" r="3.4" fill="url(#b_p)"/><circle cx="142.8" cy="362.8" r="3.4" fill="url(#b_p)"/><circle cx="149.5" cy="356.4" r="3.4" fill="url(#b_p)"/><circle cx="156.2" cy="350.1" r="3.4" fill="url(#b_p)"/><circle cx="162.9" cy="343.9" r="3.4" fill="url(#b_p)"/><circle cx="169.6" cy="337.8" r="3.4" fill="url(#b_p)"/><circle cx="176.3" cy="331.9" r="3.4" fill="url(#b_p)"/><circle cx="183.0" cy="326.1" r="3.4" fill="url(#b_p)"/><circle cx="189.7" cy="320.5" r="3.4" fill="url(#b_p)"/><circle cx="196.4" cy="315.2" r="3.4" fill="url(#b_p)"/><circle cx="203.1" cy="310.0" r="3.4" fill="url(#b_p)"/><circle cx="209.8" cy="305.0" r="3.4" fill="url(#b_p)"/><circle cx="216.5" cy="300.0" r="3.4" fill="url(#b_p)"/><circle cx="223.2" cy="295.1" r="3.4" fill="url(#b_p)"/><circle cx="229.9" cy="290.4" r="3.4" fill="url(#b_p)"/><circle cx="236.6" cy="285.9" r="3.4" fill="url(#b_p)"/><circle cx="243.3" cy="281.5" r="3.4" fill="url(#b_p)"/><circle cx="250.0" cy="277.2" r="3.4" fill="url(#b_p)"/><circle cx="256.7" cy="273.1" r="3.4" fill="url(#b_p)"/><circle cx="263.4" cy="269.2" r="3.4" fill="url(#b_p)"/><circle cx="270.1" cy="265.4" r="3.4" fill="url(#b_p)"/><circle cx="276.8" cy="262.0" r="3.4" fill="url(#b_p)"/><circle cx="283.5" cy="258.7" r="3.4" fill="url(#b_p)"/><circle cx="290.2" cy="255.4" r="3.4" fill="url(#b_p)"/><circle cx="296.9" cy="251.9" r="3.4" fill="url(#b_p)"/><circle cx="303.6" cy="248.3" r="3.4" fill="url(#b_p)"/><circle cx="310.3" cy="244.8" r="3.4" fill="url(#b_p)"/>
<polyline fill="none" stroke="#62c94f" stroke-width="1.0" points="64.7,439.3 69.6,428.7 74.5,417.6 79.4,407.1 84.3,397.2 89.2,387.7 94.1,378.5 99.0,369.6 103.9,360.8 108.8,352.3 113.7,343.9 118.6,335.7 123.5,327.9 128.4,320.5 133.3,313.4 138.2,306.5 143.1,299.8 148.0,293.2 152.9,286.7 157.8,280.3 162.7,274.1 167.6,267.8 172.5,260.6 177.4,254.7 182.3,249.4"/><circle cx="64.7" cy="439.3" r="3.4" fill="url(#b_g)"/><circle cx="69.6" cy="428.7" r="3.4" fill="url(#b_g)"/><circle cx="74.5" cy="417.6" r="3.4" fill="url(#b_g)"/><circle cx="79.4" cy="407.1" r="3.4" fill="url(#b_g)"/><circle cx="84.3" cy="397.2" r="3.4" fill="url(#b_g)"/><circle cx="89.2" cy="387.7" r="3.4" fill="url(#b_g)"/><circle cx="94.1" cy="378.5" r="3.4" fill="url(#b_g)"/><circle cx="99.0" cy="369.6" r="3.4" fill="url(#b_g)"/><circle cx="103.9" cy="360.8" r="3.4" fill="url(#b_g)"/><circle cx="108.8" cy="352.3" r="3.4" fill="url(#b_g)"/><circle cx="113.7" cy="343.9" r="3.4" fill="url(#b_g)"/><circle cx="118.6" cy="335.7" r="3.4" fill="url(#b_g)"/><circle cx="123.5" cy="327.9" r="3.4" fill="url(#b_g)"/><circle cx="128.4" cy="320.5" r="3.4" fill="url(#b_g)"/><circle cx="133.3" cy="313.4" r="3.4" fill="url(#b_g)"/><circle cx="138.2" cy="306.5" r="3.4" fill="url(#b_g)"/><circle cx="143.1" cy="299.8" r="3.4" fill="url(#b_g)"/><circle cx="148.0" cy="293.2" r="3.4" fill="url(#b_g)"/><circle cx="152.9" cy="286.7" r="3.4" fill="url(#b_g)"/><circle cx="157.8" cy="280.3" r="3.4" fill="url(#b_g)"/><circle cx="162.7" cy="274.1" r="3.4" fill="url(#b_g)"/><circle cx="167.6" cy="267.8" r="3.4" fill="url(#b_g)"/><circle cx="172.5" cy="260.6" r="3.4" fill="url(#b_g)"/><circle cx="177.4" cy="254.7" r="3.4" fill="url(#b_g)"/><circle cx="182.3" cy="249.4" r="3.4" fill="url(#b_g)"/>
<polyline fill="none" stroke="#ff0000" stroke-width="1.0" points="62.5,440.1 65.9,432.8 69.4,425.8 72.8,418.8 76.3,411.1 79.7,402.3 83.1,392.6 86.6,382.7 90.0,373.2 93.5,364.4 96.9,355.9 100.3,347.5 103.8,339.1 107.2,330.4 110.7,321.7 114.1,313.1 117.5,304.7 121.0,296.5 124.4,288.5 127.9,280.8 131.3,273.3 134.7,266.3 138.2,259.6 141.6,252.8 145.1,246.2"/><circle cx="62.5" cy="440.1" r="3.4" fill="url(#b_r)"/><circle cx="65.9" cy="432.8" r="3.4" fill="url(#b_r)"/><circle cx="69.4" cy="425.8" r="3.4" fill="url(#b_r)"/><circle cx="72.8" cy="418.8" r="3.4" fill="url(#b_r)"/><circle cx="76.3" cy="411.1" r="3.4" fill="url(#b_r)"/><circle cx="79.7" cy="402.3" r="3.4" fill="url(#b_r)"/><circle cx="83.1" cy="392.6" r="3.4" fill="url(#b_r)"/><circle cx="86.6" cy="382.7" r="3.4" fill="url(#b_r)"/><circle cx="90.0" cy="373.2" r="3.4" fill="url(#b_r)"/><circle cx="93.5" cy="364.4" r="3.4" fill="url(#b_r)"/><circle cx="96.9" cy="355.9" r="3.4" fill="url(#b_r)"/><circle cx="100.3" cy="347.5" r="3.4" fill="url(#b_r)"/><circle cx="103.8" cy="339.1" r="3.4" fill="url(#b_r)"/><circle cx="107.2" cy="330.4" r="3.4" fill="url(#b_r)"/><circle cx="110.7" cy="321.7" r="3.4" fill="url(#b_r)"/><circle cx="114.1" cy="313.1" r="3.4" fill="url(#b_r)"/><circle cx="117.5" cy="304.7" r="3.4" fill="url(#b_r)"/><circle cx="121.0" cy="296.5" r="3.4" fill="url(#b_r)"/><circle cx="124.4" cy="288.5" r="3.4" fill="url(#b_r)"/><circle cx="127.9" cy="280.8" r="3.4" fill="url(#b_r)"/><circle cx="131.3" cy="273.3" r="3.4" fill="url(#b_r)"/><circle cx="134.7" cy="266.3" r="3.4" fill="url(#b_r)"/><circle cx="138.2" cy="259.6" r="3.4" fill="url(#b_r)"/><circle cx="141.6" cy="252.8" r="3.4" fill="url(#b_r)"/><circle cx="145.1" cy="246.2" r="3.4" fill="url(#b_r)"/>
<line x1="85.7" y1="390.6" x2="155.1" y2="281.1" stroke="#ff0000" stroke-width="1.8"/>
<line x1="98.6" y1="406.6" x2="198.7" y2="312.5" stroke="#ff0000" stroke-width="1.8"/>
<line x1="152.3" y1="385.7" x2="275.4" y2="322.6" stroke="#ff0000" stroke-width="1.8"/>
<line x1="64" y1="437" x2="112" y2="318" stroke="#ff0000" stroke-width="1.8"/>
</g>
<line x1="62.50" y1="441.5" x2="62.50" y2="444.5" stroke="#a0a0a0" stroke-width="1.0"/><line x1="132.50" y1="441.5" x2="132.50" y2="444.5" stroke="#a0a0a0" stroke-width="1.0"/><line x1="202.50" y1="441.5" x2="202.50" y2="444.5" stroke="#a0a0a0" stroke-width="1.0"/><line x1="272.50" y1="441.5" x2="272.50" y2="444.5" stroke="#a0a0a0" stroke-width="1.0"/><line x1="342.50" y1="441.5" x2="342.50" y2="444.5" stroke="#a0a0a0" stroke-width="1.0"/>
<line x1="97.50" y1="441.5" x2="97.50" y2="443.5" stroke="#a0a0a0" stroke-width="1.0"/><line x1="167.50" y1="441.5" x2="167.50" y2="443.5" stroke="#a0a0a0" stroke-width="1.0"/><line x1="237.50" y1="441.5" x2="237.50" y2="443.5" stroke="#a0a0a0" stroke-width="1.0"/><line x1="307.50" y1="441.5" x2="307.50" y2="443.5" stroke="#a0a0a0" stroke-width="1.0"/>
<line x1="59.0" y1="440.10" x2="62.5" y2="440.10" stroke="#a0a0a0" stroke-width="1.0"/><line x1="59.0" y1="383.10" x2="62.5" y2="383.10" stroke="#a0a0a0" stroke-width="1.0"/><line x1="59.0" y1="326.10" x2="62.5" y2="326.10" stroke="#a0a0a0" stroke-width="1.0"/><line x1="59.0" y1="269.10" x2="62.5" y2="269.10" stroke="#a0a0a0" stroke-width="1.0"/>
<line x1="60.3" y1="411.60" x2="62.5" y2="411.60" stroke="#a0a0a0" stroke-width="1.0"/><line x1="60.3" y1="354.60" x2="62.5" y2="354.60" stroke="#a0a0a0" stroke-width="1.0"/><line x1="60.3" y1="297.60" x2="62.5" y2="297.60" stroke="#a0a0a0" stroke-width="1.0"/>
<text x="62.50" y="455.00" font-size="11.5" font-family="'Liberation Sans', Arial, sans-serif" font-weight="bold" fill="#000" text-anchor="middle"><tspan>0</tspan></text>
<text x="132.50" y="455.00" font-size="11.5" font-family="'Liberation Sans', Arial, sans-serif" font-weight="bold" fill="#000" text-anchor="middle"><tspan>7</tspan></text>
<text x="202.50" y="455.00" font-size="11.5" font-family="'Liberation Sans', Arial, sans-serif" font-weight="bold" fill="#000" text-anchor="middle"><tspan>14</tspan></text>
<text x="272.50" y="455.00" font-size="11.5" font-family="'Liberation Sans', Arial, sans-serif" font-weight="bold" fill="#000" text-anchor="middle"><tspan>21</tspan></text>
<text x="342.50" y="455.00" font-size="11.5" font-family="'Liberation Sans', Arial, sans-serif" font-weight="bold" fill="#000" text-anchor="middle"><tspan>28</tspan></text>
<text x="58.00" y="444.20" font-size="11.5" font-family="'Liberation Sans', Arial, sans-serif" font-weight="bold" fill="#000" text-anchor="end"><tspan>0</tspan></text>
<text x="58.00" y="387.20" font-size="11.5" font-family="'Liberation Sans', Arial, sans-serif" font-weight="bold" fill="#000" text-anchor="end"><tspan>80</tspan></text>
<text x="58.00" y="330.20" font-size="11.5" font-family="'Liberation Sans', Arial, sans-serif" font-weight="bold" fill="#000" text-anchor="end"><tspan>160</tspan></text>
<text x="58.00" y="273.20" font-size="11.5" font-family="'Liberation Sans', Arial, sans-serif" font-weight="bold" fill="#000" text-anchor="end"><tspan>240</tspan></text>
<text x="206.80" y="478.70" font-size="15.5" font-family="'Liberation Sans', Arial, sans-serif" font-weight="bold" fill="#000" text-anchor="middle" textLength="77.80" lengthAdjust="spacingAndGlyphs"><tspan>Time (min)</tspan></text>
<text x="25.10" y="415.00" font-size="15.5" font-family="'Liberation Sans', Arial, sans-serif" font-weight="bold" fill="#000" textLength="128.40" lengthAdjust="spacingAndGlyphs" transform="rotate(-90.00 25.10 415.00)"><tspan>H</tspan><tspan dy="3.88" font-size="10.85">2</tspan><tspan dy="-3.88"> evolution (mL)</tspan></text>
<line x1="175.5" y1="377.3" x2="201.5" y2="377.3" stroke="#ff0000" stroke-width="1.2"/><circle cx="188.5" cy="377.3" r="3.4" fill="url(#b_r)"/>
<text x="204.40" y="381.50" font-size="11.5" font-family="'Liberation Sans', Arial, sans-serif" font-weight="bold" fill="#ff0000" textLength="121.50" lengthAdjust="spacingAndGlyphs"><tspan>Ru/Co</tspan><tspan dy="2.88" font-size="8.05">3</tspan><tspan dy="-2.88">B-Co(OH)</tspan><tspan dy="2.88" font-size="8.05">2</tspan><tspan dy="-2.88">@NF</tspan></text>
<line x1="175.5" y1="393.5" x2="201.5" y2="393.5" stroke="#62c94f" stroke-width="1.2"/><circle cx="188.5" cy="393.5" r="3.4" fill="url(#b_g)"/>
<text x="204.40" y="397.70" font-size="11.5" font-family="'Liberation Sans', Arial, sans-serif" font-weight="bold" fill="#62c94f" textLength="130.60" lengthAdjust="spacingAndGlyphs"><tspan>b-Ru/Co</tspan><tspan dy="2.88" font-size="8.05">3</tspan><tspan dy="-2.88">B-Co(OH)</tspan><tspan dy="2.88" font-size="8.05">2</tspan><tspan dy="-2.88">@NF</tspan></text>
<line x1="175.5" y1="409.0" x2="201.5" y2="409.0" stroke="#9360bd" stroke-width="1.2"/><circle cx="188.5" cy="409.0" r="3.4" fill="url(#b_p)"/>
<text x="204.40" y="413.20" font-size="11.5" font-family="'Liberation Sans', Arial, sans-serif" font-weight="bold" fill="#9360bd" textLength="102.40" lengthAdjust="spacingAndGlyphs"><tspan>Co</tspan><tspan dy="2.88" font-size="8.05">3</tspan><tspan dy="-2.88">B-Co(OH)</tspan><tspan dy="2.88" font-size="8.05">2</tspan><tspan dy="-2.88">@NF</tspan></text>
<line x1="175.5" y1="425.3" x2="201.5" y2="425.3" stroke="#4aa5e0" stroke-width="1.2"/><circle cx="188.5" cy="425.3" r="3.4" fill="url(#b_b)"/>
<text x="204.40" y="429.50" font-size="11.5" font-family="'Liberation Sans', Arial, sans-serif" font-weight="bold" fill="#4aa5e0" textLength="115.00" lengthAdjust="spacingAndGlyphs"><tspan>b-Co</tspan><tspan dy="2.88" font-size="8.05">3</tspan><tspan dy="-2.88">B-Co(OH)2@NF</tspan></text>
<text x="14.00" y="260.50" font-size="24" font-family="'Liberation Sans', Arial, sans-serif" font-weight="bold" fill="#000"><tspan>b</tspan></text>
<rect x="446.2" y="272.30" width="37.80" height="120.50" fill="#ff0000"/>
<rect x="446.2" y="396.0" width="37.80" height="45.50" fill="#ff0000"/>
<text x="464.10" y="268.70" font-size="11.5" font-family="'Liberation Sans', Arial, sans-serif" font-weight="bold" fill="#000" text-anchor="middle" textLength="25.60" lengthAdjust="spacingAndGlyphs"><tspan>4839</tspan></text>
<rect x="510.4" y="314.82" width="38.00" height="77.98" fill="#66d35f"/>
<rect x="510.4" y="396.0" width="38.00" height="45.50" fill="#66d35f"/>
<text x="527.20" y="311.22" font-size="11.5" font-family="'Liberation Sans', Arial, sans-serif" font-weight="bold" fill="#000" text-anchor="middle" textLength="25.20" lengthAdjust="spacingAndGlyphs"><tspan>3168</tspan></text>
<rect x="575.1" y="352.46" width="37.60" height="40.34" fill="#d1bade"/>
<rect x="575.1" y="396.0" width="37.60" height="45.50" fill="#d1bade"/>
<text x="591.60" y="349.36" font-size="12.5" font-family="'Liberation Sans', Arial, sans-serif" font-weight="bold" fill="#000" text-anchor="middle" textLength="27.50" lengthAdjust="spacingAndGlyphs"><tspan>1689</tspan></text>
<rect x="639.1" y="370.89" width="37.80" height="21.91" fill="#8bc2ea"/>
<rect x="639.1" y="396.0" width="37.80" height="45.50" fill="#8bc2ea"/>
<text x="657.50" y="367.79" font-size="12.5" font-family="'Liberation Sans', Arial, sans-serif" font-weight="bold" fill="#000" text-anchor="middle" textLength="20.80" lengthAdjust="spacingAndGlyphs"><tspan>965</tspan></text>
<line x1="426.5" y1="255.5" x2="705.5" y2="255.5" stroke="#a0a0a0" stroke-width="1.0" stroke-linecap="square"/><line x1="705.5" y1="255.5" x2="705.5" y2="441.5" stroke="#a0a0a0" stroke-width="1.0" stroke-linecap="square"/><line x1="426.5" y1="441.5" x2="705.5" y2="441.5" stroke="#a0a0a0" stroke-width="1.0" stroke-linecap="square"/><line x1="426.5" y1="255.5" x2="426.5" y2="441.5" stroke="#a0a0a0" stroke-width="1.0" stroke-linecap="square"/>
<rect x="424.5" y="392.9" width="4" height="3.0" fill="#fff"/>
<line x1="424.0" y1="394.5" x2="429.0" y2="389.5" stroke="#6b6b6b" stroke-width="0.8"/>
<line x1="424.0" y1="398.0" x2="429.0" y2="393.0" stroke="#6b6b6b" stroke-width="0.8"/>
<rect x="703.5" y="392.9" width="4" height="3.0" fill="#fff"/>
<line x1="703.0" y1="394.5" x2="708.0" y2="389.5" stroke="#6b6b6b" stroke-width="0.8"/>
<line x1="703.0" y1="398.0" x2="708.0" y2="393.0" stroke="#6b6b6b" stroke-width="0.8"/>
<line x1="423.0" y1="370.00" x2="426.5" y2="370.00" stroke="#6b6b6b" stroke-width="1.0"/><line x1="423.0" y1="344.55" x2="426.5" y2="344.55" stroke="#6b6b6b" stroke-width="1.0"/><line x1="423.0" y1="319.10" x2="426.5" y2="319.10" stroke="#6b6b6b" stroke-width="1.0"/><line x1="423.0" y1="293.65" x2="426.5" y2="293.65" stroke="#6b6b6b" stroke-width="1.0"/><line x1="423.0" y1="268.20" x2="426.5" y2="268.20" stroke="#6b6b6b" stroke-width="1.0"/>
<line x1="424.3" y1="382.73" x2="426.5" y2="382.73" stroke="#6b6b6b" stroke-width="1.0"/><line x1="424.3" y1="357.27" x2="426.5" y2="357.27" stroke="#6b6b6b" stroke-width="1.0"/><line x1="424.3" y1="331.82" x2="426.5" y2="331.82" stroke="#6b6b6b" stroke-width="1.0"/><line x1="424.3" y1="306.38" x2="426.5" y2="306.38" stroke="#6b6b6b" stroke-width="1.0"/><line x1="424.3" y1="280.93" x2="426.5" y2="280.93" stroke="#6b6b6b" stroke-width="1.0"/>
<line x1="423.0" y1="441.00" x2="426.5" y2="441.00" stroke="#6b6b6b" stroke-width="1.0"/><line x1="423.0" y1="423.00" x2="426.5" y2="423.00" stroke="#6b6b6b" stroke-width="1.0"/><line x1="423.0" y1="405.00" x2="426.5" y2="405.00" stroke="#6b6b6b" stroke-width="1.0"/>
<line x1="424.3" y1="432.00" x2="426.5" y2="432.00" stroke="#6b6b6b" stroke-width="1.0"/><line x1="424.3" y1="414.00" x2="426.5" y2="414.00" stroke="#6b6b6b" stroke-width="1.0"/>
<text x="421.50" y="374.10" font-size="11.5" font-family="'Liberation Sans', Arial, sans-serif" font-weight="bold" fill="#000" text-anchor="end"><tspan>1000</tspan></text>
<text x="421.50" y="348.65" font-size="11.5" font-family="'Liberation Sans', Arial, sans-serif" font-weight="bold" fill="#000" text-anchor="end"><tspan>2000</tspan></text>
<text x="421.50" y="323.20" font-size="11.5" font-family="'Liberation Sans', Arial, sans-serif" font-weight="bold" fill="#000" text-anchor="end"><tspan>3000</tspan></text>
<text x="421.50" y="297.75" font-size="11.5" font-family="'Liberation Sans', Arial, sans-serif" font-weight="bold" fill="#000" text-anchor="end"><tspan>4000</tspan></text>
<text x="421.50" y="272.30" font-size="11.5" font-family="'Liberation Sans', Arial, sans-serif" font-weight="bold" fill="#000" text-anchor="end"><tspan>5000</tspan></text>
<text x="421.50" y="445.10" font-size="11.5" font-family="'Liberation Sans', Arial, sans-serif" font-weight="bold" fill="#000" text-anchor="end"><tspan>0</tspan></text>
<text x="421.50" y="427.10" font-size="11.5" font-family="'Liberation Sans', Arial, sans-serif" font-weight="bold" fill="#000" text-anchor="end"><tspan>20</tspan></text>
<text x="421.50" y="409.10" font-size="11.5" font-family="'Liberation Sans', Arial, sans-serif" font-weight="bold" fill="#000" text-anchor="end"><tspan>40</tspan></text>
<text x="564.50" y="480.50" font-size="15.5" font-family="'Liberation Sans', Arial, sans-serif" font-weight="bold" fill="#000" text-anchor="middle" textLength="61.30" lengthAdjust="spacingAndGlyphs"><tspan>Catalyst</tspan></text>
<text x="383.40" y="443.40" font-size="13.5" font-family="'Liberation Sans', Arial, sans-serif" font-weight="bold" fill="#000" textLength="176.20" lengthAdjust="spacingAndGlyphs" transform="rotate(-90.00 383.40 443.40)"><tspan>H</tspan><tspan dy="3.38" font-size="9.45">2</tspan><tspan dy="-3.38"> evolution (mL min</tspan><tspan dy="-5.40" font-size="9.45">−1</tspan><tspan dy="5.40"> g</tspan><tspan dy="-5.40" font-size="9.45">−1</tspan><tspan dy="5.40">)</tspan></text>
<rect x="558.1" y="262.7" width="22.3" height="10.7" fill="#ff0000"/>
<text x="583.80" y="271.00" font-size="10" font-family="'Liberation Sans', Arial, sans-serif" font-weight="bold" fill="#000" textLength="105.20" lengthAdjust="spacingAndGlyphs"><tspan>Ru/Co</tspan><tspan dy="2.50" font-size="7.00">3</tspan><tspan dy="-2.50">B-Co(OH)</tspan><tspan dy="2.50" font-size="7.00">2</tspan><tspan dy="-2.50">@NF</tspan></text>
<rect x="558.1" y="278.0" width="22.3" height="10.7" fill="#66d35f"/>
<text x="583.80" y="286.30" font-size="10" font-family="'Liberation Sans', Arial, sans-serif" font-weight="bold" fill="#000" textLength="114.30" lengthAdjust="spacingAndGlyphs"><tspan>b-Ru/Co</tspan><tspan dy="2.50" font-size="7.00">3</tspan><tspan dy="-2.50">B-Co(OH)</tspan><tspan dy="2.50" font-size="7.00">2</tspan><tspan dy="-2.50">@NF</tspan></text>
<rect x="558.1" y="293.2" width="22.3" height="10.7" fill="#d1bade"/>
<text x="583.80" y="301.50" font-size="10" font-family="'Liberation Sans', Arial, sans-serif" font-weight="bold" fill="#000" textLength="88.90" lengthAdjust="spacingAndGlyphs"><tspan>Co</tspan><tspan dy="2.50" font-size="7.00">3</tspan><tspan dy="-2.50">B-Co(OH)</tspan><tspan dy="2.50" font-size="7.00">2</tspan><tspan dy="-2.50">@NF</tspan></text>
<rect x="558.1" y="308.0" width="22.3" height="10.7" fill="#8bc2ea"/>
<text x="583.80" y="316.30" font-size="10" font-family="'Liberation Sans', Arial, sans-serif" font-weight="bold" fill="#000" textLength="98.10" lengthAdjust="spacingAndGlyphs"><tspan>b-Co</tspan><tspan dy="2.50" font-size="7.00">3</tspan><tspan dy="-2.50">B-Co(OH)</tspan><tspan dy="2.50" font-size="7.00">2</tspan><tspan dy="-2.50">@NF</tspan></text>
<text x="372.20" y="262.00" font-size="26.5" font-family="'Liberation Sans', Arial, sans-serif" font-weight="bold" fill="#000"><tspan>c</tspan></text>
<defs><radialGradient id="d_1" cx="0.5" cy="0.5" r="0.5" fx="0.38" fy="0.33"><stop offset="0" stop-color="#ffffff"/><stop offset="0.18" stop-color="#ff9999"/><stop offset="0.5" stop-color="#ff0000"/><stop offset="0.85" stop-color="#ff0000"/><stop offset="1" stop-color="#e00000"/></radialGradient><radialGradient id="d_2" cx="0.5" cy="0.5" r="0.5" fx="0.38" fy="0.33"><stop offset="0" stop-color="#ffffff"/><stop offset="0.18" stop-color="#cee6f7"/><stop offset="0.5" stop-color="#86c1ec"/><stop offset="0.85" stop-color="#86c1ec"/><stop offset="1" stop-color="#75a9cf"/></radialGradient><radialGradient id="d_3" cx="0.5" cy="0.5" r="0.5" fx="0.38" fy="0.33"><stop offset="0" stop-color="#ffffff"/><stop offset="0.18" stop-color="#e2f3d9"/><stop offset="0.5" stop-color="#b8e3a0"/><stop offset="0.85" stop-color="#b8e3a0"/><stop offset="1" stop-color="#a1c78c"/></radialGradient><radialGradient id="d_4" cx="0.5" cy="0.5" r="0.5" fx="0.38" fy="0.33"><stop offset="0" stop-color="#ffffff"/><stop offset="0.18" stop-color="#e0d3f0"/><stop offset="0.5" stop-color="#b393db"/><stop offset="0.85" stop-color="#b393db"/><stop offset="1" stop-color="#9d81c0"/></radialGradient><radialGradient id="d_5" cx="0.5" cy="0.5" r="0.5" fx="0.38" fy="0.33"><stop offset="0" stop-color="#ffffff"/><stop offset="0.18" stop-color="#ffcea1"/><stop offset="0.5" stop-color="#ff8515"/><stop offset="0.85" stop-color="#ff8515"/><stop offset="1" stop-color="#e07512"/></radialGradient></defs>
<line x1="785.5" y1="255.5" x2="1065.5" y2="255.5" stroke="#9a9a9a" stroke-width="1.6" stroke-linecap="square"/><line x1="1065.5" y1="255.5" x2="1065.5" y2="441.5" stroke="#555555" stroke-width="1.0" stroke-linecap="square"/><line x1="785.5" y1="441.5" x2="1065.5" y2="441.5" stroke="#555555" stroke-width="1.0" stroke-linecap="square"/><line x1="785.5" y1="255.5" x2="785.5" y2="441.5" stroke="#444444" stroke-width="1.0" stroke-linecap="square"/>
<clipPath id="clipd"><rect x="783" y="253.5" width="283" height="192"/></clipPath>
<g clip-path="url(#clipd)">
<polyline fill="none" stroke="#ff8515" stroke-width="1.3" points="950.3,439.6 954.5,431.3 958.7,422.9 962.9,414.7 967.2,406.6 971.4,399.0 975.6,391.6 979.8,384.3 984.0,376.9 988.2,369.2 992.4,361.3 996.6,353.3 1000.9,345.5 1005.1,338.0 1009.3,330.6 1013.5,323.4 1017.7,316.7 1021.9,310.3 1026.1,303.9 1030.4,297.2 1034.6,290.4 1038.8,283.6 1043.0,277.2 1047.2,271.5 1051.4,266.3 1055.6,261.4 1059.8,256.4"/><circle cx="950.3" cy="439.6" r="4.0" fill="url(#d_5)"/><circle cx="954.5" cy="431.3" r="4.0" fill="url(#d_5)"/><circle cx="958.7" cy="422.9" r="4.0" fill="url(#d_5)"/><circle cx="962.9" cy="414.7" r="4.0" fill="url(#d_5)"/><circle cx="967.2" cy="406.6" r="4.0" fill="url(#d_5)"/><circle cx="971.4" cy="399.0" r="4.0" fill="url(#d_5)"/><circle cx="975.6" cy="391.6" r="4.0" fill="url(#d_5)"/><circle cx="979.8" cy="384.3" r="4.0" fill="url(#d_5)"/><circle cx="984.0" cy="376.9" r="4.0" fill="url(#d_5)"/><circle cx="988.2" cy="369.2" r="4.0" fill="url(#d_5)"/><circle cx="992.4" cy="361.3" r="4.0" fill="url(#d_5)"/><circle cx="996.6" cy="353.3" r="4.0" fill="url(#d_5)"/><circle cx="1000.9" cy="345.5" r="4.0" fill="url(#d_5)"/><circle cx="1005.1" cy="338.0" r="4.0" fill="url(#d_5)"/><circle cx="1009.3" cy="330.6" r="4.0" fill="url(#d_5)"/><circle cx="1013.5" cy="323.4" r="4.0" fill="url(#d_5)"/><circle cx="1017.7" cy="316.7" r="4.0" fill="url(#d_5)"/><circle cx="1021.9" cy="310.3" r="4.0" fill="url(#d_5)"/><circle cx="1026.1" cy="303.9" r="4.0" fill="url(#d_5)"/><circle cx="1030.4" cy="297.2" r="4.0" fill="url(#d_5)"/><circle cx="1034.6" cy="290.4" r="4.0" fill="url(#d_5)"/><circle cx="1038.8" cy="283.6" r="4.0" fill="url(#d_5)"/><circle cx="1043.0" cy="277.2" r="4.0" fill="url(#d_5)"/><circle cx="1047.2" cy="271.5" r="4.0" fill="url(#d_5)"/><circle cx="1051.4" cy="266.3" r="4.0" fill="url(#d_5)"/><circle cx="1055.6" cy="261.4" r="4.0" fill="url(#d_5)"/><circle cx="1059.8" cy="256.4" r="4.0" fill="url(#d_5)"/>
<polyline fill="none" stroke="#b393db" stroke-width="1.3" points="913.2,439.6 917.2,430.9 921.1,422.1 925.1,413.4 929.1,405.0 933.0,396.9 937.0,389.1 940.9,381.4 944.9,373.8 948.8,366.0 952.8,358.1 956.8,350.3 960.7,342.7 964.7,335.3 968.6,328.1 972.6,321.2 976.5,314.3 980.5,307.6 984.5,301.0 988.4,294.5 992.4,288.1 996.3,281.8 1000.3,275.7 1004.2,270.1 1008.2,265.2 1012.2,260.8 1016.1,256.5"/><circle cx="913.2" cy="439.6" r="4.0" fill="url(#d_4)"/><circle cx="917.2" cy="430.9" r="4.0" fill="url(#d_4)"/><circle cx="921.1" cy="422.1" r="4.0" fill="url(#d_4)"/><circle cx="925.1" cy="413.4" r="4.0" fill="url(#d_4)"/><circle cx="929.1" cy="405.0" r="4.0" fill="url(#d_4)"/><circle cx="933.0" cy="396.9" r="4.0" fill="url(#d_4)"/><circle cx="937.0" cy="389.1" r="4.0" fill="url(#d_4)"/><circle cx="940.9" cy="381.4" r="4.0" fill="url(#d_4)"/><circle cx="944.9" cy="373.8" r="4.0" fill="url(#d_4)"/><circle cx="948.8" cy="366.0" r="4.0" fill="url(#d_4)"/><circle cx="952.8" cy="358.1" r="4.0" fill="url(#d_4)"/><circle cx="956.8" cy="350.3" r="4.0" fill="url(#d_4)"/><circle cx="960.7" cy="342.7" r="4.0" fill="url(#d_4)"/><circle cx="964.7" cy="335.3" r="4.0" fill="url(#d_4)"/><circle cx="968.6" cy="328.1" r="4.0" fill="url(#d_4)"/><circle cx="972.6" cy="321.2" r="4.0" fill="url(#d_4)"/><circle cx="976.5" cy="314.3" r="4.0" fill="url(#d_4)"/><circle cx="980.5" cy="307.6" r="4.0" fill="url(#d_4)"/><circle cx="984.5" cy="301.0" r="4.0" fill="url(#d_4)"/><circle cx="988.4" cy="294.5" r="4.0" fill="url(#d_4)"/><circle cx="992.4" cy="288.1" r="4.0" fill="url(#d_4)"/><circle cx="996.3" cy="281.8" r="4.0" fill="url(#d_4)"/><circle cx="1000.3" cy="275.7" r="4.0" fill="url(#d_4)"/><circle cx="1004.2" cy="270.1" r="4.0" fill="url(#d_4)"/><circle cx="1008.2" cy="265.2" r="4.0" fill="url(#d_4)"/><circle cx="1012.2" cy="260.8" r="4.0" fill="url(#d_4)"/><circle cx="1016.1" cy="256.5" r="4.0" fill="url(#d_4)"/>
<polyline fill="none" stroke="#b8e3a0" stroke-width="1.3" points="874.5,439.6 877.7,432.2 880.9,424.5 884.1,417.0 887.2,409.6 890.4,402.5 893.6,395.6 896.8,388.8 900.0,382.0 903.2,375.3 906.4,368.7 909.6,362.1 912.8,355.5 916.0,348.8 919.2,342.0 922.4,335.3 925.5,328.8 928.7,322.6 931.9,316.7 935.1,310.9 938.3,305.3 941.5,299.7 944.7,294.4 947.9,289.1 951.1,284.0 954.3,279.0 957.5,274.0 960.6,269.2 963.8,264.4 967.0,259.6 970.2,254.9"/><circle cx="874.5" cy="439.6" r="4.0" fill="url(#d_3)"/><circle cx="877.7" cy="432.2" r="4.0" fill="url(#d_3)"/><circle cx="880.9" cy="424.5" r="4.0" fill="url(#d_3)"/><circle cx="884.1" cy="417.0" r="4.0" fill="url(#d_3)"/><circle cx="887.2" cy="409.6" r="4.0" fill="url(#d_3)"/><circle cx="890.4" cy="402.5" r="4.0" fill="url(#d_3)"/><circle cx="893.6" cy="395.6" r="4.0" fill="url(#d_3)"/><circle cx="896.8" cy="388.8" r="4.0" fill="url(#d_3)"/><circle cx="900.0" cy="382.0" r="4.0" fill="url(#d_3)"/><circle cx="903.2" cy="375.3" r="4.0" fill="url(#d_3)"/><circle cx="906.4" cy="368.7" r="4.0" fill="url(#d_3)"/><circle cx="909.6" cy="362.1" r="4.0" fill="url(#d_3)"/><circle cx="912.8" cy="355.5" r="4.0" fill="url(#d_3)"/><circle cx="916.0" cy="348.8" r="4.0" fill="url(#d_3)"/><circle cx="919.2" cy="342.0" r="4.0" fill="url(#d_3)"/><circle cx="922.4" cy="335.3" r="4.0" fill="url(#d_3)"/><circle cx="925.5" cy="328.8" r="4.0" fill="url(#d_3)"/><circle cx="928.7" cy="322.6" r="4.0" fill="url(#d_3)"/><circle cx="931.9" cy="316.7" r="4.0" fill="url(#d_3)"/><circle cx="935.1" cy="310.9" r="4.0" fill="url(#d_3)"/><circle cx="938.3" cy="305.3" r="4.0" fill="url(#d_3)"/><circle cx="941.5" cy="299.7" r="4.0" fill="url(#d_3)"/><circle cx="944.7" cy="294.4" r="4.0" fill="url(#d_3)"/><circle cx="947.9" cy="289.1" r="4.0" fill="url(#d_3)"/><circle cx="951.1" cy="284.0" r="4.0" fill="url(#d_3)"/><circle cx="954.3" cy="279.0" r="4.0" fill="url(#d_3)"/><circle cx="957.5" cy="274.0" r="4.0" fill="url(#d_3)"/><circle cx="960.6" cy="269.2" r="4.0" fill="url(#d_3)"/><circle cx="963.8" cy="264.4" r="4.0" fill="url(#d_3)"/><circle cx="967.0" cy="259.6" r="4.0" fill="url(#d_3)"/><circle cx="970.2" cy="254.9" r="4.0" fill="url(#d_3)"/>
<polyline fill="none" stroke="#86c1ec" stroke-width="1.3" points="836.5,439.6 839.6,432.1 842.8,424.5 845.9,417.0 849.0,409.5 852.1,402.2 855.3,395.1 858.4,387.9 861.5,380.8 864.6,373.4 867.8,365.9 870.9,358.4 874.0,351.0 877.2,343.8 880.3,336.6 883.4,329.5 886.5,322.6 889.7,316.1 892.8,309.8 895.9,303.7 899.1,297.8 902.2,292.1 905.3,286.7 908.4,281.4 911.6,276.3 914.7,271.1 917.8,266.0 920.9,261.1 924.1,256.2"/><circle cx="836.5" cy="439.6" r="4.0" fill="url(#d_2)"/><circle cx="839.6" cy="432.1" r="4.0" fill="url(#d_2)"/><circle cx="842.8" cy="424.5" r="4.0" fill="url(#d_2)"/><circle cx="845.9" cy="417.0" r="4.0" fill="url(#d_2)"/><circle cx="849.0" cy="409.5" r="4.0" fill="url(#d_2)"/><circle cx="852.1" cy="402.2" r="4.0" fill="url(#d_2)"/><circle cx="855.3" cy="395.1" r="4.0" fill="url(#d_2)"/><circle cx="858.4" cy="387.9" r="4.0" fill="url(#d_2)"/><circle cx="861.5" cy="380.8" r="4.0" fill="url(#d_2)"/><circle cx="864.6" cy="373.4" r="4.0" fill="url(#d_2)"/><circle cx="867.8" cy="365.9" r="4.0" fill="url(#d_2)"/><circle cx="870.9" cy="358.4" r="4.0" fill="url(#d_2)"/><circle cx="874.0" cy="351.0" r="4.0" fill="url(#d_2)"/><circle cx="877.2" cy="343.8" r="4.0" fill="url(#d_2)"/><circle cx="880.3" cy="336.6" r="4.0" fill="url(#d_2)"/><circle cx="883.4" cy="329.5" r="4.0" fill="url(#d_2)"/><circle cx="886.5" cy="322.6" r="4.0" fill="url(#d_2)"/><circle cx="889.7" cy="316.1" r="4.0" fill="url(#d_2)"/><circle cx="892.8" cy="309.8" r="4.0" fill="url(#d_2)"/><circle cx="895.9" cy="303.7" r="4.0" fill="url(#d_2)"/><circle cx="899.1" cy="297.8" r="4.0" fill="url(#d_2)"/><circle cx="902.2" cy="292.1" r="4.0" fill="url(#d_2)"/><circle cx="905.3" cy="286.7" r="4.0" fill="url(#d_2)"/><circle cx="908.4" cy="281.4" r="4.0" fill="url(#d_2)"/><circle cx="911.6" cy="276.3" r="4.0" fill="url(#d_2)"/><circle cx="914.7" cy="271.1" r="4.0" fill="url(#d_2)"/><circle cx="917.8" cy="266.0" r="4.0" fill="url(#d_2)"/><circle cx="920.9" cy="261.1" r="4.0" fill="url(#d_2)"/><circle cx="924.1" cy="256.2" r="4.0" fill="url(#d_2)"/>
<polyline fill="none" stroke="#ff0000" stroke-width="1.3" points="797.5,436.8 800.7,427.8 803.9,418.8 807.1,409.8 810.3,400.7 813.5,391.6 816.6,382.7 819.8,374.0 823.0,365.4 826.2,356.8 829.4,348.3 832.6,339.8 835.8,331.5 839.0,323.5 842.2,315.6 845.4,308.2 848.6,301.5 851.8,295.4 854.9,289.3 858.1,283.0 861.3,276.6 864.5,270.9 867.7,266.1 870.9,261.9 874.1,257.9 877.3,254.3"/><circle cx="797.5" cy="436.8" r="4.0" fill="url(#d_1)"/><circle cx="800.7" cy="427.8" r="4.0" fill="url(#d_1)"/><circle cx="803.9" cy="418.8" r="4.0" fill="url(#d_1)"/><circle cx="807.1" cy="409.8" r="4.0" fill="url(#d_1)"/><circle cx="810.3" cy="400.7" r="4.0" fill="url(#d_1)"/><circle cx="813.5" cy="391.6" r="4.0" fill="url(#d_1)"/><circle cx="816.6" cy="382.7" r="4.0" fill="url(#d_1)"/><circle cx="819.8" cy="374.0" r="4.0" fill="url(#d_1)"/><circle cx="823.0" cy="365.4" r="4.0" fill="url(#d_1)"/><circle cx="826.2" cy="356.8" r="4.0" fill="url(#d_1)"/><circle cx="829.4" cy="348.3" r="4.0" fill="url(#d_1)"/><circle cx="832.6" cy="339.8" r="4.0" fill="url(#d_1)"/><circle cx="835.8" cy="331.5" r="4.0" fill="url(#d_1)"/><circle cx="839.0" cy="323.5" r="4.0" fill="url(#d_1)"/><circle cx="842.2" cy="315.6" r="4.0" fill="url(#d_1)"/><circle cx="845.4" cy="308.2" r="4.0" fill="url(#d_1)"/><circle cx="848.6" cy="301.5" r="4.0" fill="url(#d_1)"/><circle cx="851.8" cy="295.4" r="4.0" fill="url(#d_1)"/><circle cx="854.9" cy="289.3" r="4.0" fill="url(#d_1)"/><circle cx="858.1" cy="283.0" r="4.0" fill="url(#d_1)"/><circle cx="861.3" cy="276.6" r="4.0" fill="url(#d_1)"/><circle cx="864.5" cy="270.9" r="4.0" fill="url(#d_1)"/><circle cx="867.7" cy="266.1" r="4.0" fill="url(#d_1)"/><circle cx="870.9" cy="261.9" r="4.0" fill="url(#d_1)"/><circle cx="874.1" cy="257.9" r="4.0" fill="url(#d_1)"/><circle cx="877.3" cy="254.3" r="4.0" fill="url(#d_1)"/>
</g>
<line x1="797.50" y1="441.5" x2="797.50" y2="445.0" stroke="#555" stroke-width="1.0"/><line x1="874.10" y1="441.5" x2="874.10" y2="445.0" stroke="#555" stroke-width="1.0"/><line x1="950.69" y1="441.5" x2="950.69" y2="445.0" stroke="#555" stroke-width="1.0"/><line x1="1027.29" y1="441.5" x2="1027.29" y2="445.0" stroke="#555" stroke-width="1.0"/>
<line x1="835.80" y1="441.5" x2="835.80" y2="443.7" stroke="#555" stroke-width="1.0"/><line x1="912.39" y1="441.5" x2="912.39" y2="443.7" stroke="#555" stroke-width="1.0"/><line x1="988.99" y1="441.5" x2="988.99" y2="443.7" stroke="#555" stroke-width="1.0"/>
<line x1="782.0" y1="440.50" x2="785.5" y2="440.50" stroke="#444" stroke-width="1.0"/><line x1="782.0" y1="385.38" x2="785.5" y2="385.38" stroke="#444" stroke-width="1.0"/><line x1="782.0" y1="330.26" x2="785.5" y2="330.26" stroke="#444" stroke-width="1.0"/><line x1="782.0" y1="275.14" x2="785.5" y2="275.14" stroke="#444" stroke-width="1.0"/>
<line x1="783.3" y1="412.94" x2="785.5" y2="412.94" stroke="#444" stroke-width="1.0"/><line x1="783.3" y1="357.82" x2="785.5" y2="357.82" stroke="#444" stroke-width="1.0"/><line x1="783.3" y1="302.70" x2="785.5" y2="302.70" stroke="#444" stroke-width="1.0"/>
<text x="797.50" y="456.00" font-size="12" font-family="'Liberation Sans', Arial, sans-serif" font-weight="bold" fill="#000" text-anchor="middle"><tspan>0</tspan></text>
<text x="874.10" y="456.00" font-size="12" font-family="'Liberation Sans', Arial, sans-serif" font-weight="bold" fill="#000" text-anchor="middle"><tspan>12</tspan></text>
<text x="950.69" y="456.00" font-size="12" font-family="'Liberation Sans', Arial, sans-serif" font-weight="bold" fill="#000" text-anchor="middle"><tspan>24</tspan></text>
<text x="1027.29" y="456.00" font-size="12" font-family="'Liberation Sans', Arial, sans-serif" font-weight="bold" fill="#000" text-anchor="middle"><tspan>36</tspan></text>
<text x="780.30" y="445.30" font-size="12.5" font-family="'Liberation Sans', Arial, sans-serif" font-weight="bold" fill="#000" text-anchor="end"><tspan>0</tspan></text>
<text x="780.30" y="390.18" font-size="12.5" font-family="'Liberation Sans', Arial, sans-serif" font-weight="bold" fill="#000" text-anchor="end"><tspan>80</tspan></text>
<text x="780.30" y="335.06" font-size="12.5" font-family="'Liberation Sans', Arial, sans-serif" font-weight="bold" fill="#000" text-anchor="end"><tspan>160</tspan></text>
<text x="780.30" y="279.94" font-size="12.5" font-family="'Liberation Sans', Arial, sans-serif" font-weight="bold" fill="#000" text-anchor="end"><tspan>240</tspan></text>
<text x="926.00" y="481.00" font-size="16" font-family="'Liberation Sans', Arial, sans-serif" font-weight="bold" fill="#000" text-anchor="middle" textLength="81.00" lengthAdjust="spacingAndGlyphs"><tspan>Time (min)</tspan></text>
<text x="748.00" y="421.80" font-size="14.5" font-family="'Liberation Sans', Arial, sans-serif" font-weight="bold" fill="#000" textLength="134.50" lengthAdjust="spacingAndGlyphs" transform="rotate(-90.00 748.00 421.80)"><tspan>H</tspan><tspan dy="0.73" font-size="7.98">2</tspan><tspan dy="-0.73"> evolution (mL)</tspan></text>
<line x1="1009.1" y1="354.8" x2="1040.9" y2="354.8" stroke="#ff0000" stroke-width="1.4"/><circle cx="1025.0" cy="354.8" r="4.0" fill="url(#d_1)"/>
<text x="1044.50" y="359.10" font-size="12.5" font-family="'Liberation Sans', Arial, sans-serif" font-weight="bold" fill="#000"><tspan>1</tspan><tspan dy="-5.62" font-size="9.38">st</tspan></text>
<line x1="1009.1" y1="373.90000000000003" x2="1040.9" y2="373.90000000000003" stroke="#86c1ec" stroke-width="1.4"/><circle cx="1025.0" cy="373.90000000000003" r="4.0" fill="url(#d_2)"/>
<text x="1044.50" y="378.20" font-size="12.5" font-family="'Liberation Sans', Arial, sans-serif" font-weight="bold" fill="#000"><tspan>2</tspan><tspan dy="-5.62" font-size="9.38">nd</tspan></text>
<line x1="1009.1" y1="393.0" x2="1040.9" y2="393.0" stroke="#b8e3a0" stroke-width="1.4"/><circle cx="1025.0" cy="393.0" r="4.0" fill="url(#d_3)"/>
<text x="1044.50" y="397.30" font-size="12.5" font-family="'Liberation Sans', Arial, sans-serif" font-weight="bold" fill="#000"><tspan>3</tspan><tspan dy="-5.62" font-size="9.38">rd</tspan></text>
<line x1="1009.1" y1="412.1" x2="1040.9" y2="412.1" stroke="#b393db" stroke-width="1.4"/><circle cx="1025.0" cy="412.1" r="4.0" fill="url(#d_4)"/>
<text x="1044.50" y="416.40" font-size="12.5" font-family="'Liberation Sans', Arial, sans-serif" font-weight="bold" fill="#000"><tspan>4</tspan><tspan dy="-5.62" font-size="9.38">th</tspan></text>
<line x1="1009.1" y1="431.20000000000005" x2="1040.9" y2="431.20000000000005" stroke="#ff8515" stroke-width="1.4"/><circle cx="1025.0" cy="431.20000000000005" r="4.0" fill="url(#d_5)"/>
<text x="1044.50" y="435.50" font-size="12.5" font-family="'Liberation Sans', Arial, sans-serif" font-weight="bold" fill="#000"><tspan>5</tspan><tspan dy="-5.62" font-size="9.38">th</tspan></text>
<text x="735.00" y="261.50" font-size="25" font-family="'Liberation Sans', Arial, sans-serif" font-weight="bold" fill="#000"><tspan>d</tspan></text>
<rect x="77.2" y="533.87" width="33.80" height="164.63" fill="#ff0000"/>
<text x="94.10" y="533.27" font-size="12.5" font-family="'Liberation Sans', Arial, sans-serif" font-weight="bold" fill="#000" text-anchor="middle" textLength="28.50" lengthAdjust="spacingAndGlyphs"><tspan>4839</tspan></text>
<text x="96.60" y="715.10" font-size="12.5" font-family="'Liberation Sans', Arial, sans-serif" font-weight="bold" fill="#000" text-anchor="middle"><tspan>1</tspan><tspan dy="-4.62" font-size="9.38">st</tspan></text>
<rect x="131.4" y="561.14" width="34.00" height="137.36" fill="#52a5e2"/>
<text x="148.40" y="560.54" font-size="12.5" font-family="'Liberation Sans', Arial, sans-serif" font-weight="bold" fill="#000" text-anchor="middle" textLength="28.50" lengthAdjust="spacingAndGlyphs"><tspan>4037</tspan></text>
<text x="152.90" y="715.10" font-size="12.5" font-family="'Liberation Sans', Arial, sans-serif" font-weight="bold" fill="#000" text-anchor="middle"><tspan>2</tspan><tspan dy="-4.62" font-size="9.38">nd</tspan></text>
<rect x="185.7" y="565.09" width="33.90" height="133.41" fill="#66d163"/>
<text x="203.45" y="564.49" font-size="12.5" font-family="'Liberation Sans', Arial, sans-serif" font-weight="bold" fill="#000" text-anchor="middle" textLength="28.50" lengthAdjust="spacingAndGlyphs"><tspan>3921</tspan></text>
<text x="204.95" y="715.10" font-size="12.5" font-family="'Liberation Sans', Arial, sans-serif" font-weight="bold" fill="#000" text-anchor="middle"><tspan>3</tspan><tspan dy="-4.62" font-size="9.38">rd</tspan></text>
<rect x="240.2" y="572.50" width="34.00" height="126.00" fill="#9b72c8"/>
<text x="257.20" y="571.90" font-size="12.5" font-family="'Liberation Sans', Arial, sans-serif" font-weight="bold" fill="#000" text-anchor="middle" textLength="28.50" lengthAdjust="spacingAndGlyphs"><tspan>3703</tspan></text>
<text x="260.60" y="715.10" font-size="12.5" font-family="'Liberation Sans', Arial, sans-serif" font-weight="bold" fill="#000" text-anchor="middle"><tspan>4</tspan><tspan dy="-4.62" font-size="9.38">th</tspan></text>
<rect x="294.3" y="577.53" width="34.20" height="120.97" fill="#ffa54f"/>
<text x="311.40" y="576.93" font-size="12.5" font-family="'Liberation Sans', Arial, sans-serif" font-weight="bold" fill="#000" text-anchor="middle" textLength="28.50" lengthAdjust="spacingAndGlyphs"><tspan>3555</tspan></text>
<text x="315.00" y="715.10" font-size="12.5" font-family="'Liberation Sans', Arial, sans-serif" font-weight="bold" fill="#000" text-anchor="middle"><tspan>5</tspan><tspan dy="-4.62" font-size="9.38">th</tspan></text>
<line x1="62.5" y1="512.5" x2="342.5" y2="512.5" stroke="#777777" stroke-width="1.0" stroke-linecap="square"/><line x1="342.5" y1="512.5" x2="342.5" y2="698.5" stroke="#555555" stroke-width="1.0" stroke-linecap="square"/><line x1="62.5" y1="698.5" x2="342.5" y2="698.5" stroke="#555555" stroke-width="1.0" stroke-linecap="square"/><line x1="62.5" y1="512.5" x2="62.5" y2="698.5" stroke="#a8a8a8" stroke-width="1.6" stroke-linecap="square"/>
<line x1="59.0" y1="698.40" x2="62.5" y2="698.40" stroke="#555555" stroke-width="1.0"/><line x1="59.0" y1="664.40" x2="62.5" y2="664.40" stroke="#555555" stroke-width="1.0"/><line x1="59.0" y1="630.40" x2="62.5" y2="630.40" stroke="#555555" stroke-width="1.0"/><line x1="59.0" y1="596.40" x2="62.5" y2="596.40" stroke="#555555" stroke-width="1.0"/><line x1="59.0" y1="562.40" x2="62.5" y2="562.40" stroke="#555555" stroke-width="1.0"/><line x1="59.0" y1="528.40" x2="62.5" y2="528.40" stroke="#555555" stroke-width="1.0"/>
<line x1="60.3" y1="681.40" x2="62.5" y2="681.40" stroke="#555555" stroke-width="1.0"/><line x1="60.3" y1="647.40" x2="62.5" y2="647.40" stroke="#555555" stroke-width="1.0"/><line x1="60.3" y1="613.40" x2="62.5" y2="613.40" stroke="#555555" stroke-width="1.0"/><line x1="60.3" y1="579.40" x2="62.5" y2="579.40" stroke="#555555" stroke-width="1.0"/><line x1="60.3" y1="545.40" x2="62.5" y2="545.40" stroke="#555555" stroke-width="1.0"/>
<text x="59.00" y="702.70" font-size="12" font-family="'Liberation Sans', Arial, sans-serif" font-weight="bold" fill="#000" text-anchor="end"><tspan>0</tspan></text>
<text x="59.00" y="668.70" font-size="12" font-family="'Liberation Sans', Arial, sans-serif" font-weight="bold" fill="#000" text-anchor="end"><tspan>1000</tspan></text>
<text x="59.00" y="634.70" font-size="12" font-family="'Liberation Sans', Arial, sans-serif" font-weight="bold" fill="#000" text-anchor="end"><tspan>2000</tspan></text>
<text x="59.00" y="600.70" font-size="12" font-family="'Liberation Sans', Arial, sans-serif" font-weight="bold" fill="#000" text-anchor="end"><tspan>3000</tspan></text>
<text x="59.00" y="566.70" font-size="12" font-family="'Liberation Sans', Arial, sans-serif" font-weight="bold" fill="#000" text-anchor="end"><tspan>4000</tspan></text>
<text x="59.00" y="532.70" font-size="12" font-family="'Liberation Sans', Arial, sans-serif" font-weight="bold" fill="#000" text-anchor="end"><tspan>5000</tspan></text>
<text x="202.60" y="739.80" font-size="16" font-family="'Liberation Sans', Arial, sans-serif" font-weight="bold" fill="#000" text-anchor="middle" textLength="67.40" lengthAdjust="spacingAndGlyphs"><tspan>Cycle (n)</tspan></text>
<text x="25.50" y="678.10" font-size="11.5" font-family="'Liberation Sans', Arial, sans-serif" font-weight="bold" fill="#000" textLength="152.70" lengthAdjust="spacingAndGlyphs" transform="rotate(-90.00 25.50 678.10)"><tspan>H</tspan><tspan dy="2.88" font-size="8.05">2</tspan><tspan dy="-2.88"> evolution (mL min</tspan><tspan dy="-4.60" font-size="8.05">−1</tspan><tspan dy="4.60"> g</tspan><tspan dy="-4.60" font-size="8.05">−1</tspan><tspan dy="4.60">)</tspan></text>
<text x="15.00" y="517.50" font-size="25.5" font-family="'Liberation Sans', Arial, sans-serif" font-weight="bold" fill="#000"><tspan>e</tspan></text>
<clipPath id="clipf"><rect x="427.7" y="508.5" width="278.8" height="186.5"/></clipPath><g clip-path="url(#clipf)">
<line x1="427.7" y1="612.70" x2="680" y2="612.70" stroke="#000" stroke-width="1.2" stroke-dasharray="4.4,3.2"/>
<polyline fill="none" stroke="#8b00ff" stroke-width="2.1" stroke-linejoin="round" points="470.5,677.0 471.3,674.7 472.0,672.4 472.8,670.1 472.9,667.8 473.9,665.5 472.4,663.2 473.9,660.9 475.6,658.7 475.4,656.4 476.6,654.1 475.3,651.8 476.7,649.5 476.8,647.2 478.0,644.9 478.6,642.6 477.9,640.3 478.9,638.0 479.6,635.7 481.6,633.4 481.8,631.1 481.1,628.9 483.0,626.6 482.2,624.3 483.8,622.0 483.4,619.7 483.7,617.4 486.3,615.1 485.5,612.8 486.3,610.5 488.7,608.2 489.2,605.9 488.7,603.6 491.0,601.3 490.9,599.0 492.0,596.8 491.8,594.5 494.4,592.2 494.7,589.9 496.3,587.6 497.1,585.3 496.8,583.0 497.9,580.7 498.4,578.4 499.4,576.1 500.2,573.8 501.8,571.5 503.3,569.2 504.5,567.0 505.7,564.7 506.9,562.4 508.3,560.1 509.7,557.8 511.2,555.5 512.8,553.2 514.6,550.9 516.5,548.6 518.6,546.3 520.8,544.0 523.2,541.7 525.7,539.4 526.7,538.6 527.7,537.8 528.7,536.9 529.8,536.1 530.8,535.3 531.9,534.4 533.1,533.6 534.3,532.8 535.4,531.9 536.7,531.1 537.9,530.3 539.2,529.4 540.6,528.6 541.9,527.8 543.3,526.9 544.7,526.1 546.2,525.3 547.7,524.4 549.2,523.6 550.8,522.8 552.3,521.9 554.0,521.1 556.0,520.3 558.4,519.4 561.0,518.6 563.8,517.8 566.8,516.9 569.9,516.1 572.5,515.3 574.8,514.4 577.9,513.6 582.7,512.8 590.1,511.9 600.1,511.1 614.6,510.3 636.8,509.4 698.3,508.6 706.5,508.5"/>
<polyline fill="none" stroke="#4da9e6" stroke-width="2.1" stroke-linejoin="round" points="490.6,677.0 490.1,674.7 492.0,672.4 492.0,670.1 492.5,667.8 494.1,665.5 494.1,663.2 494.4,660.9 495.3,658.7 496.4,656.4 495.7,654.1 498.1,651.8 496.9,649.5 498.9,647.2 499.7,644.9 498.7,642.6 500.9,640.3 500.7,638.0 501.7,635.7 501.2,633.4 502.0,631.1 502.9,628.9 505.0,626.6 504.2,624.3 506.0,622.0 507.0,619.7 507.7,617.4 507.3,615.1 508.0,612.8 509.1,610.5 510.3,608.2 509.8,605.9 511.8,603.6 512.7,601.3 513.6,599.0 512.9,596.8 515.5,594.5 514.7,592.2 516.1,589.9 517.5,587.6 519.0,585.3 518.8,583.0 520.9,580.7 521.2,578.4 521.7,576.1 522.8,573.8 523.7,571.5 525.5,569.2 526.7,567.0 527.9,564.7 529.2,562.4 530.5,560.1 531.9,557.8 533.3,555.5 534.8,553.2 536.4,550.9 538.1,548.6 539.8,546.3 541.7,544.0 543.7,541.7 545.9,539.4 546.8,538.6 547.6,537.8 548.5,536.9 549.4,536.1 550.3,535.3 551.3,534.4 552.2,533.6 553.2,532.8 554.2,531.9 555.2,531.1 556.3,530.3 557.3,529.4 558.4,528.6 559.5,527.8 560.5,526.9 561.6,526.1 562.8,525.3 563.9,524.4 565.0,523.6 566.3,522.8 567.6,521.9 569.0,521.1 570.6,520.3 572.4,519.4 574.3,518.6 576.4,517.8 578.7,516.9 580.7,516.1 583.2,515.3 586.6,514.4 591.6,513.6 598.9,512.8 609.2,511.9 624.3,511.1 647.2,510.3 686.5,509.4 706.5,509.0"/>
<polyline fill="none" stroke="#ff8a00" stroke-width="2.1" stroke-linejoin="round" points="535.3,675.6 536.4,673.3 538.1,671.1 539.6,668.8 539.7,666.5 540.7,664.2 542.8,661.9 543.4,659.6 544.3,657.3 545.2,655.0 546.7,652.7 548.1,650.4 548.7,648.1 549.8,645.8 550.5,643.5 552.5,641.3 552.7,639.0 554.3,636.7 555.8,634.4 556.1,632.1 557.9,629.8 559.3,627.5 560.0,625.2 561.3,622.9 561.6,620.6 563.1,618.3 563.8,616.0 565.6,613.7 566.0,611.4 567.1,609.2 568.5,606.9 569.2,604.6 570.1,602.3 570.3,600.0 571.1,597.7 572.2,595.4 572.8,593.1 573.5,590.8 574.7,588.5 575.5,586.2 577.0,583.9 578.9,581.6 580.2,579.4 581.2,577.1 582.5,574.8 583.8,572.5 585.6,570.2 587.3,567.9 589.0,565.6 590.8,563.3 592.7,561.0 594.8,558.7 596.9,556.4 599.3,554.1 601.7,551.8 604.4,549.6 607.1,547.3 610.1,545.0 613.1,542.7 616.3,540.4 619.6,538.1 620.9,537.3 622.2,536.4 623.5,535.6 624.9,534.8 626.3,533.9 627.8,533.1 629.3,532.3 630.9,531.4 632.6,530.6 634.3,529.8 636.1,528.9 638.0,528.1 640.0,527.3 642.1,526.4 644.3,525.6 646.6,524.8 649.0,523.9 651.4,523.1 653.9,522.3 656.5,521.4 659.0,520.6 661.7,519.8 664.3,518.9 667.1,518.1 670.2,517.3 673.5,516.4 677.0,515.6 680.7,514.8 684.6,513.9 688.8,513.1 693.7,512.3 698.8,511.4 704.0,510.6 706.5,510.2"/>
<polyline fill="none" stroke="#ff0000" stroke-width="2.1" stroke-linejoin="round" points="591.6,681.2 583.7,676.0 588.1,671.6 592.4,670.8 588.1,664.7 591.6,661.2 589.0,657.7 592.4,654.2 591.6,649.0 594.2,645.5 592.4,642.0 595.9,636.7 595.1,633.3 597.7,629.8 594.2,626.3 598.5,623.7 599.4,619.3 602.0,615.8 600.3,612.3 603.8,608.8 605.5,605.4 607.3,601.0 606.4,596.6 609.0,593.1 608.1,587.9 611.6,584.4 614.2,579.2 616.9,574.0 620.4,568.7 623.8,561.7 624.5,557.0 628.3,548.2 635.0,541.5 643.0,534.8 653.8,528.1 667.1,521.4 680.5,516.1 694.0,512.9 706.5,510.6"/>
<polyline fill="none" stroke="#000000" stroke-width="2.1" stroke-linejoin="round" points="648.6,674.2 648.8,671.9 648.9,669.6 649.0,667.3 649.1,665.0 649.3,662.7 649.6,660.4 650.0,658.1 650.9,655.8 651.8,653.5 652.6,651.3 653.4,649.0 654.2,646.7 655.0,644.4 655.8,642.1 656.6,639.8 657.4,637.5 658.2,635.2 659.0,632.9 659.7,630.6 660.5,628.3 661.2,626.0 661.9,623.7 662.7,621.5 663.3,619.2 664.0,616.9 664.7,614.6 665.3,612.3 665.9,610.0 666.5,607.7 667.1,605.4 667.7,603.1 668.3,600.8 668.9,598.5 669.5,596.2 670.1,593.9 670.7,591.7 671.3,589.4 671.9,587.1 672.5,584.8 673.2,582.5 673.9,580.2 674.5,577.9 675.2,575.6 675.9,573.3 676.6,571.0 677.3,568.7 678.0,566.4 678.7,564.1 679.4,561.9 680.1,559.6 680.9,557.3 681.6,555.0 682.3,552.7 683.1,550.4 683.9,548.1 684.7,545.8 685.4,543.5 686.2,541.2 686.9,538.9 687.2,538.1 687.5,537.3 687.8,536.4 688.1,535.6 688.4,534.8 688.7,533.9 689.0,533.1 689.3,532.3 689.6,531.4 689.9,530.6 690.3,529.8 690.6,528.9 690.9,528.1 691.3,527.3 691.6,526.4 692.0,525.6 692.4,524.8 692.8,523.9 693.1,523.1 693.5,522.3 694.0,521.4 694.5,520.6 695.2,519.8 696.2,518.9 697.4,518.1 698.8,517.3 700.5,516.4 703.4,515.6 706.5,514.8 706.5,514.8"/>
</g>
<line x1="427.5" y1="508.5" x2="706.5" y2="508.5" stroke="#777777" stroke-width="1.4" stroke-linecap="square"/><line x1="706.5" y1="508.5" x2="706.5" y2="695.5" stroke="#555555" stroke-width="1.0" stroke-linecap="square"/><line x1="427.5" y1="695.5" x2="706.5" y2="695.5" stroke="#444444" stroke-width="1.0" stroke-linecap="square"/><line x1="427.5" y1="508.5" x2="427.5" y2="695.5" stroke="#444444" stroke-width="1.0" stroke-linecap="square"/>
<line x1="427.70" y1="695.0" x2="427.70" y2="698.5" stroke="#555555" stroke-width="1.0"/><line x1="497.40" y1="695.0" x2="497.40" y2="698.5" stroke="#555555" stroke-width="1.0"/><line x1="567.10" y1="695.0" x2="567.10" y2="698.5" stroke="#555555" stroke-width="1.0"/><line x1="636.80" y1="695.0" x2="636.80" y2="698.5" stroke="#555555" stroke-width="1.0"/><line x1="706.50" y1="695.0" x2="706.50" y2="698.5" stroke="#555555" stroke-width="1.0"/>
<line x1="462.55" y1="695.0" x2="462.55" y2="697.2" stroke="#555555" stroke-width="1.0"/><line x1="532.25" y1="695.0" x2="532.25" y2="697.2" stroke="#555555" stroke-width="1.0"/><line x1="601.95" y1="695.0" x2="601.95" y2="697.2" stroke="#555555" stroke-width="1.0"/><line x1="671.65" y1="695.0" x2="671.65" y2="697.2" stroke="#555555" stroke-width="1.0"/>
<line x1="424.2" y1="508.50" x2="427.7" y2="508.50" stroke="#555555" stroke-width="1.0"/><line x1="424.2" y1="560.60" x2="427.7" y2="560.60" stroke="#555555" stroke-width="1.0"/><line x1="424.2" y1="612.70" x2="427.7" y2="612.70" stroke="#555555" stroke-width="1.0"/><line x1="424.2" y1="664.80" x2="427.7" y2="664.80" stroke="#555555" stroke-width="1.0"/>
<line x1="425.5" y1="534.55" x2="427.7" y2="534.55" stroke="#555555" stroke-width="1.0"/><line x1="425.5" y1="586.65" x2="427.7" y2="586.65" stroke="#555555" stroke-width="1.0"/><line x1="425.5" y1="638.75" x2="427.7" y2="638.75" stroke="#555555" stroke-width="1.0"/><line x1="425.5" y1="690.85" x2="427.7" y2="690.85" stroke="#555555" stroke-width="1.0"/>
<text x="427.70" y="712.80" font-size="13" font-family="'Liberation Sans', Arial, sans-serif" font-weight="bold" fill="#000" text-anchor="middle" textLength="24.00" lengthAdjust="spacingAndGlyphs"><tspan>-0.4</tspan></text>
<text x="497.40" y="712.80" font-size="13" font-family="'Liberation Sans', Arial, sans-serif" font-weight="bold" fill="#000" text-anchor="middle" textLength="24.00" lengthAdjust="spacingAndGlyphs"><tspan>-0.3</tspan></text>
<text x="567.10" y="712.80" font-size="13" font-family="'Liberation Sans', Arial, sans-serif" font-weight="bold" fill="#000" text-anchor="middle" textLength="24.00" lengthAdjust="spacingAndGlyphs"><tspan>-0.2</tspan></text>
<text x="636.80" y="712.80" font-size="13" font-family="'Liberation Sans', Arial, sans-serif" font-weight="bold" fill="#000" text-anchor="middle" textLength="24.00" lengthAdjust="spacingAndGlyphs"><tspan>-0.1</tspan></text>
<text x="706.50" y="712.80" font-size="13" font-family="'Liberation Sans', Arial, sans-serif" font-weight="bold" fill="#000" text-anchor="middle" textLength="18.40" lengthAdjust="spacingAndGlyphs"><tspan>0.0</tspan></text>
<text x="420.60" y="512.80" font-size="14" font-family="'Liberation Sans', Arial, sans-serif" font-weight="bold" fill="#000" text-anchor="end"><tspan>0</tspan></text>
<text x="420.60" y="564.90" font-size="14" font-family="'Liberation Sans', Arial, sans-serif" font-weight="bold" fill="#000" text-anchor="end"><tspan>-50</tspan></text>
<text x="420.60" y="617.00" font-size="14" font-family="'Liberation Sans', Arial, sans-serif" font-weight="bold" fill="#000" text-anchor="end"><tspan>-100</tspan></text>
<text x="420.60" y="669.10" font-size="14" font-family="'Liberation Sans', Arial, sans-serif" font-weight="bold" fill="#000" text-anchor="end"><tspan>-150</tspan></text>
<text x="567.00" y="737.20" font-size="19.3" font-family="'Liberation Sans', Arial, sans-serif" font-weight="bold" fill="#000" text-anchor="middle" textLength="152.60" lengthAdjust="spacingAndGlyphs"><tspan>Overpotential (V)</tspan></text>
<text x="390.30" y="648.60" font-size="17.5" font-family="'Liberation Sans', Arial, sans-serif" font-weight="bold" fill="#000" textLength="104.60" lengthAdjust="spacingAndGlyphs" transform="rotate(-90.00 390.30 648.60)"><tspan font-style="italic">j</tspan><tspan> (mA cm</tspan><tspan dy="-7.00" font-size="12.25">−2</tspan><tspan dy="7.00">)</tspan></text>
<text x="462.30" y="661.70" font-size="13" font-family="'Liberation Sans', Arial, sans-serif" font-weight="bold" fill="#8b00ff" textLength="115.30" lengthAdjust="spacingAndGlyphs" transform="rotate(-67.90 462.30 661.70)"><tspan>Co</tspan><tspan dy="3.25" font-size="9.10">3</tspan><tspan dy="-3.25">B-Co(OH)</tspan><tspan dy="3.25" font-size="9.10">2</tspan><tspan dy="-3.25">@NF</tspan></text>
<text x="483.30" y="668.40" font-size="13" font-family="'Liberation Sans', Arial, sans-serif" font-weight="bold" fill="#4da9e6" textLength="122.50" lengthAdjust="spacingAndGlyphs" transform="rotate(-66.90 483.30 668.40)"><tspan>b-Co</tspan><tspan dy="3.25" font-size="9.10">3</tspan><tspan dy="-3.25">B-Co(OH)</tspan><tspan dy="3.25" font-size="9.10">2</tspan><tspan dy="-3.25">@NF</tspan></text>
<text x="529.00" y="683.40" font-size="13" font-family="'Liberation Sans', Arial, sans-serif" font-weight="bold" fill="#ff8a00" textLength="148.00" lengthAdjust="spacingAndGlyphs" transform="rotate(-66.30 529.00 683.40)"><tspan>b-Ru/Co</tspan><tspan dy="3.25" font-size="9.10">3</tspan><tspan dy="-3.25">B-Co(OH)</tspan><tspan dy="3.25" font-size="9.10">2</tspan><tspan dy="-3.25">@NF</tspan></text>
<text x="601.70" y="692.00" font-size="13.5" font-family="'Liberation Sans', Arial, sans-serif" font-weight="bold" fill="#ff0000" textLength="139.00" lengthAdjust="spacingAndGlyphs" transform="rotate(-74.60 601.70 692.00)"><tspan>Ru/Co</tspan><tspan dy="3.38" font-size="9.45">3</tspan><tspan dy="-3.38">B-Co(OH)</tspan><tspan dy="3.38" font-size="9.45">2</tspan><tspan dy="-3.38">@NF</tspan></text>
<text x="676.00" y="646.20" font-size="13" font-family="'Liberation Sans', Arial, sans-serif" font-weight="bold" fill="#000" textLength="57.20" lengthAdjust="spacingAndGlyphs" transform="rotate(-69.40 676.00 646.20)"><tspan>Pt/C@NF</tspan></text>
<text x="633.70" y="562.10" font-size="13.5" font-family="'Liberation Sans', Arial, sans-serif" font-weight="bold" fill="#ff0000" textLength="44.20" lengthAdjust="spacingAndGlyphs"><tspan>153 mV</tspan></text>
<text x="379.00" y="519.60" font-size="23" font-family="'Liberation Sans', Arial, sans-serif" font-weight="bold" fill="#000"><tspan>f</tspan></text>
<polyline fill="none" stroke="#8b00ff" stroke-width="2" points="827.1,613.3 1030.3,562.5"/>
<polyline fill="none" stroke="#4da9e6" stroke-width="2" points="827.1,626.8 1031.0,578.5"/>
<polyline fill="none" stroke="#ff8a00" stroke-width="2" points="877.6,678.3 950.0,652.0 1029.0,621.6"/>
<polyline fill="none" stroke="#f04848" stroke-width="2" points="877.6,671.6 900.0,668.6 947.8,665.0 1004.4,659.3 1010.7,659.2 1019.9,656.9 1030.6,653.5"/>
<polyline fill="none" stroke="#000000" stroke-width="2" points="877.6,693.8 1031.0,678.4"/>
<line x1="854.2" y1="606.8" x2="989.7" y2="573.1" stroke="#ff0000" stroke-width="2.0"/>
<line x1="873.9" y1="615" x2="999.5" y2="586.7" stroke="#ff0000" stroke-width="2.0"/>
<line x1="902.2" y1="672.4" x2="1006.9" y2="633" stroke="#ff0000" stroke-width="2.0"/>
<line x1="902" y1="668.8" x2="1007.6" y2="658.4" stroke="#ff0000" stroke-width="2.8"/>
<line x1="893.6" y1="692.6" x2="1004.4" y2="682.7" stroke="#ff0000" stroke-width="2.0"/>
<line x1="787.5" y1="512.5" x2="1066.5" y2="512.5" stroke="#888888" stroke-width="1.0" stroke-linecap="square"/><line x1="1066.5" y1="512.5" x2="1066.5" y2="698.5" stroke="#555555" stroke-width="1.0" stroke-linecap="square"/><line x1="787.5" y1="698.5" x2="1066.5" y2="698.5" stroke="#555555" stroke-width="1.0" stroke-linecap="square"/><line x1="787.5" y1="512.5" x2="787.5" y2="698.5" stroke="#888888" stroke-width="1.0" stroke-linecap="square"/>
<line x1="787.10" y1="698.2" x2="787.10" y2="701.7" stroke="#6b6b6b" stroke-width="1.0"/><line x1="880.10" y1="698.2" x2="880.10" y2="701.7" stroke="#6b6b6b" stroke-width="1.0"/><line x1="973.10" y1="698.2" x2="973.10" y2="701.7" stroke="#6b6b6b" stroke-width="1.0"/><line x1="1066.10" y1="698.2" x2="1066.10" y2="701.7" stroke="#6b6b6b" stroke-width="1.0"/>
<line x1="833.60" y1="698.2" x2="833.60" y2="700.4000000000001" stroke="#6b6b6b" stroke-width="1.0"/><line x1="926.60" y1="698.2" x2="926.60" y2="700.4000000000001" stroke="#6b6b6b" stroke-width="1.0"/><line x1="1019.60" y1="698.2" x2="1019.60" y2="700.4000000000001" stroke="#6b6b6b" stroke-width="1.0"/>
<line x1="783.6" y1="698.20" x2="787.1" y2="698.20" stroke="#6b6b6b" stroke-width="1.0"/><line x1="783.6" y1="651.77" x2="787.1" y2="651.77" stroke="#6b6b6b" stroke-width="1.0"/><line x1="783.6" y1="605.34" x2="787.1" y2="605.34" stroke="#6b6b6b" stroke-width="1.0"/><line x1="783.6" y1="558.91" x2="787.1" y2="558.91" stroke="#6b6b6b" stroke-width="1.0"/><line x1="783.6" y1="512.48" x2="787.1" y2="512.48" stroke="#6b6b6b" stroke-width="1.0"/>
<line x1="784.9" y1="674.99" x2="787.1" y2="674.99" stroke="#6b6b6b" stroke-width="1.0"/><line x1="784.9" y1="628.56" x2="787.1" y2="628.56" stroke="#6b6b6b" stroke-width="1.0"/><line x1="784.9" y1="582.12" x2="787.1" y2="582.12" stroke="#6b6b6b" stroke-width="1.0"/><line x1="784.9" y1="535.70" x2="787.1" y2="535.70" stroke="#6b6b6b" stroke-width="1.0"/>
<text x="787.10" y="716.10" font-size="13" font-family="'Liberation Sans', Arial, sans-serif" font-weight="bold" fill="#000" text-anchor="middle" textLength="18.70" lengthAdjust="spacingAndGlyphs"><tspan>0.5</tspan></text>
<text x="880.10" y="716.10" font-size="13" font-family="'Liberation Sans', Arial, sans-serif" font-weight="bold" fill="#000" text-anchor="middle" textLength="18.70" lengthAdjust="spacingAndGlyphs"><tspan>1.0</tspan></text>
<text x="973.10" y="716.10" font-size="13" font-family="'Liberation Sans', Arial, sans-serif" font-weight="bold" fill="#000" text-anchor="middle" textLength="18.70" lengthAdjust="spacingAndGlyphs"><tspan>1.5</tspan></text>
<text x="1066.10" y="716.10" font-size="13" font-family="'Liberation Sans', Arial, sans-serif" font-weight="bold" fill="#000" text-anchor="middle" textLength="18.70" lengthAdjust="spacingAndGlyphs"><tspan>2.0</tspan></text>
<text x="780.50" y="702.70" font-size="13" font-family="'Liberation Sans', Arial, sans-serif" font-weight="bold" fill="#000" text-anchor="end" textLength="19.80" lengthAdjust="spacingAndGlyphs"><tspan>0.0</tspan></text>
<text x="780.50" y="656.27" font-size="13" font-family="'Liberation Sans', Arial, sans-serif" font-weight="bold" fill="#000" text-anchor="end" textLength="19.80" lengthAdjust="spacingAndGlyphs"><tspan>0.1</tspan></text>
<text x="780.50" y="609.84" font-size="13" font-family="'Liberation Sans', Arial, sans-serif" font-weight="bold" fill="#000" text-anchor="end" textLength="19.80" lengthAdjust="spacingAndGlyphs"><tspan>0.2</tspan></text>
<text x="780.50" y="563.41" font-size="13" font-family="'Liberation Sans', Arial, sans-serif" font-weight="bold" fill="#000" text-anchor="end" textLength="19.80" lengthAdjust="spacingAndGlyphs"><tspan>0.3</tspan></text>
<text x="780.50" y="516.98" font-size="13" font-family="'Liberation Sans', Arial, sans-serif" font-weight="bold" fill="#000" text-anchor="end" textLength="19.80" lengthAdjust="spacingAndGlyphs"><tspan>0.4</tspan></text>
<text x="926.60" y="737.70" font-size="15.5" font-family="'Liberation Sans', Arial, sans-serif" font-weight="bold" fill="#000" text-anchor="middle" textLength="111.00" lengthAdjust="spacingAndGlyphs"><tspan>log | </tspan><tspan font-style="italic">j</tspan><tspan> mA cm</tspan><tspan dy="-6.51" font-size="10.54">−2</tspan><tspan dy="6.51">|</tspan></text>
<text x="751.00" y="669.80" font-size="16" font-family="'Liberation Sans', Arial, sans-serif" font-weight="bold" fill="#000" textLength="127.00" lengthAdjust="spacingAndGlyphs" transform="rotate(-90.00 751.00 669.80)"><tspan>Overpotential (V)</tspan></text>
<line x1="792.1" y1="520.2" x2="817.8" y2="520.2" stroke="#f04848" stroke-width="2.2"/>
<text x="820.50" y="524.40" font-size="11.5" font-family="'Liberation Sans', Arial, sans-serif" font-weight="bold" fill="#000" textLength="115.70" lengthAdjust="spacingAndGlyphs"><tspan>Ru/Co</tspan><tspan dy="2.88" font-size="8.05">3</tspan><tspan dy="-2.88">B-Co(OH)</tspan><tspan dy="2.88" font-size="8.05">2</tspan><tspan dy="-2.88">@NF</tspan></text>
<line x1="792.1" y1="536.7" x2="817.8" y2="536.7" stroke="#8b00ff" stroke-width="2.2"/>
<text x="820.50" y="540.90" font-size="11.5" font-family="'Liberation Sans', Arial, sans-serif" font-weight="bold" fill="#000" textLength="97.50" lengthAdjust="spacingAndGlyphs"><tspan>Co</tspan><tspan dy="2.88" font-size="8.05">3</tspan><tspan dy="-2.88">B-Co(OH)</tspan><tspan dy="2.88" font-size="8.05">2</tspan><tspan dy="-2.88">@NF</tspan></text>
<line x1="792.1" y1="553.2" x2="817.8" y2="553.2" stroke="#4da9e6" stroke-width="2.2"/>
<text x="820.50" y="557.40" font-size="11.5" font-family="'Liberation Sans', Arial, sans-serif" font-weight="bold" fill="#000" textLength="107.50" lengthAdjust="spacingAndGlyphs"><tspan>b-Co</tspan><tspan dy="2.88" font-size="8.05">3</tspan><tspan dy="-2.88">B-Co(OH)</tspan><tspan dy="2.88" font-size="8.05">2</tspan><tspan dy="-2.88">@NF</tspan></text>
<line x1="792.1" y1="569.7" x2="817.8" y2="569.7" stroke="#ff8a00" stroke-width="2.2"/>
<text x="820.50" y="573.90" font-size="11.5" font-family="'Liberation Sans', Arial, sans-serif" font-weight="bold" fill="#000" textLength="124.00" lengthAdjust="spacingAndGlyphs"><tspan>b-Ru/Co</tspan><tspan dy="2.88" font-size="8.05">3</tspan><tspan dy="-2.88">B-Co(OH)</tspan><tspan dy="2.88" font-size="8.05">2</tspan><tspan dy="-2.88">@NF</tspan></text>
<line x1="792.1" y1="586.2" x2="817.8" y2="586.2" stroke="#000000" stroke-width="2.2"/>
<text x="820.50" y="590.40" font-size="11.5" font-family="'Liberation Sans', Arial, sans-serif" font-weight="bold" fill="#000" textLength="46.00" lengthAdjust="spacingAndGlyphs"><tspan>Pt/C@NF</tspan></text>
<text x="964.89" y="570.00" font-size="15" font-family="'Liberation Sans', Arial, sans-serif" font-weight="bold" fill="#8b00ff" textLength="90.00" lengthAdjust="spacingAndGlyphs" transform="rotate(-12.00 964.89 570.00)"><tspan>97.6 mV dec</tspan><tspan dy="-6.75" font-size="10.50">-1</tspan></text>
<text x="891.93" y="630.80" font-size="15" font-family="'Liberation Sans', Arial, sans-serif" font-weight="bold" fill="#4da9e6" textLength="90.00" lengthAdjust="spacingAndGlyphs" transform="rotate(-16.00 891.93 630.80)"><tspan>89.8 mV dec</tspan><tspan dy="-6.75" font-size="10.50">-1</tspan></text>
<text x="825.49" y="676.50" font-size="15" font-family="'Liberation Sans', Arial, sans-serif" font-weight="bold" fill="#ff8a00" textLength="96.50" lengthAdjust="spacingAndGlyphs" transform="rotate(-18.50 825.49 676.50)"><tspan>153.3 mV dec</tspan><tspan dy="-6.75" font-size="10.50">-1</tspan></text>
<text x="908.45" y="686.50" font-size="15" font-family="'Liberation Sans', Arial, sans-serif" font-weight="bold" fill="#ea4450" textLength="91.00" lengthAdjust="spacingAndGlyphs" transform="rotate(-6.50 908.45 686.50)"><tspan>40.0 mV dec</tspan><tspan dy="-6.75" font-size="10.50">-1</tspan></text>
<text x="959.66" y="700.50" font-size="15" font-family="'Liberation Sans', Arial, sans-serif" font-weight="bold" fill="#000000" textLength="91.00" lengthAdjust="spacingAndGlyphs" transform="rotate(-5.00 959.66 700.50)"><tspan>34.2 mV dec</tspan><tspan dy="-6.75" font-size="10.50">-1</tspan></text>
<text x="740.00" y="516.00" font-size="23" font-family="'Liberation Sans', Arial, sans-serif" font-weight="bold" fill="#000"><tspan>g</tspan></text>
</svg></body></html>
